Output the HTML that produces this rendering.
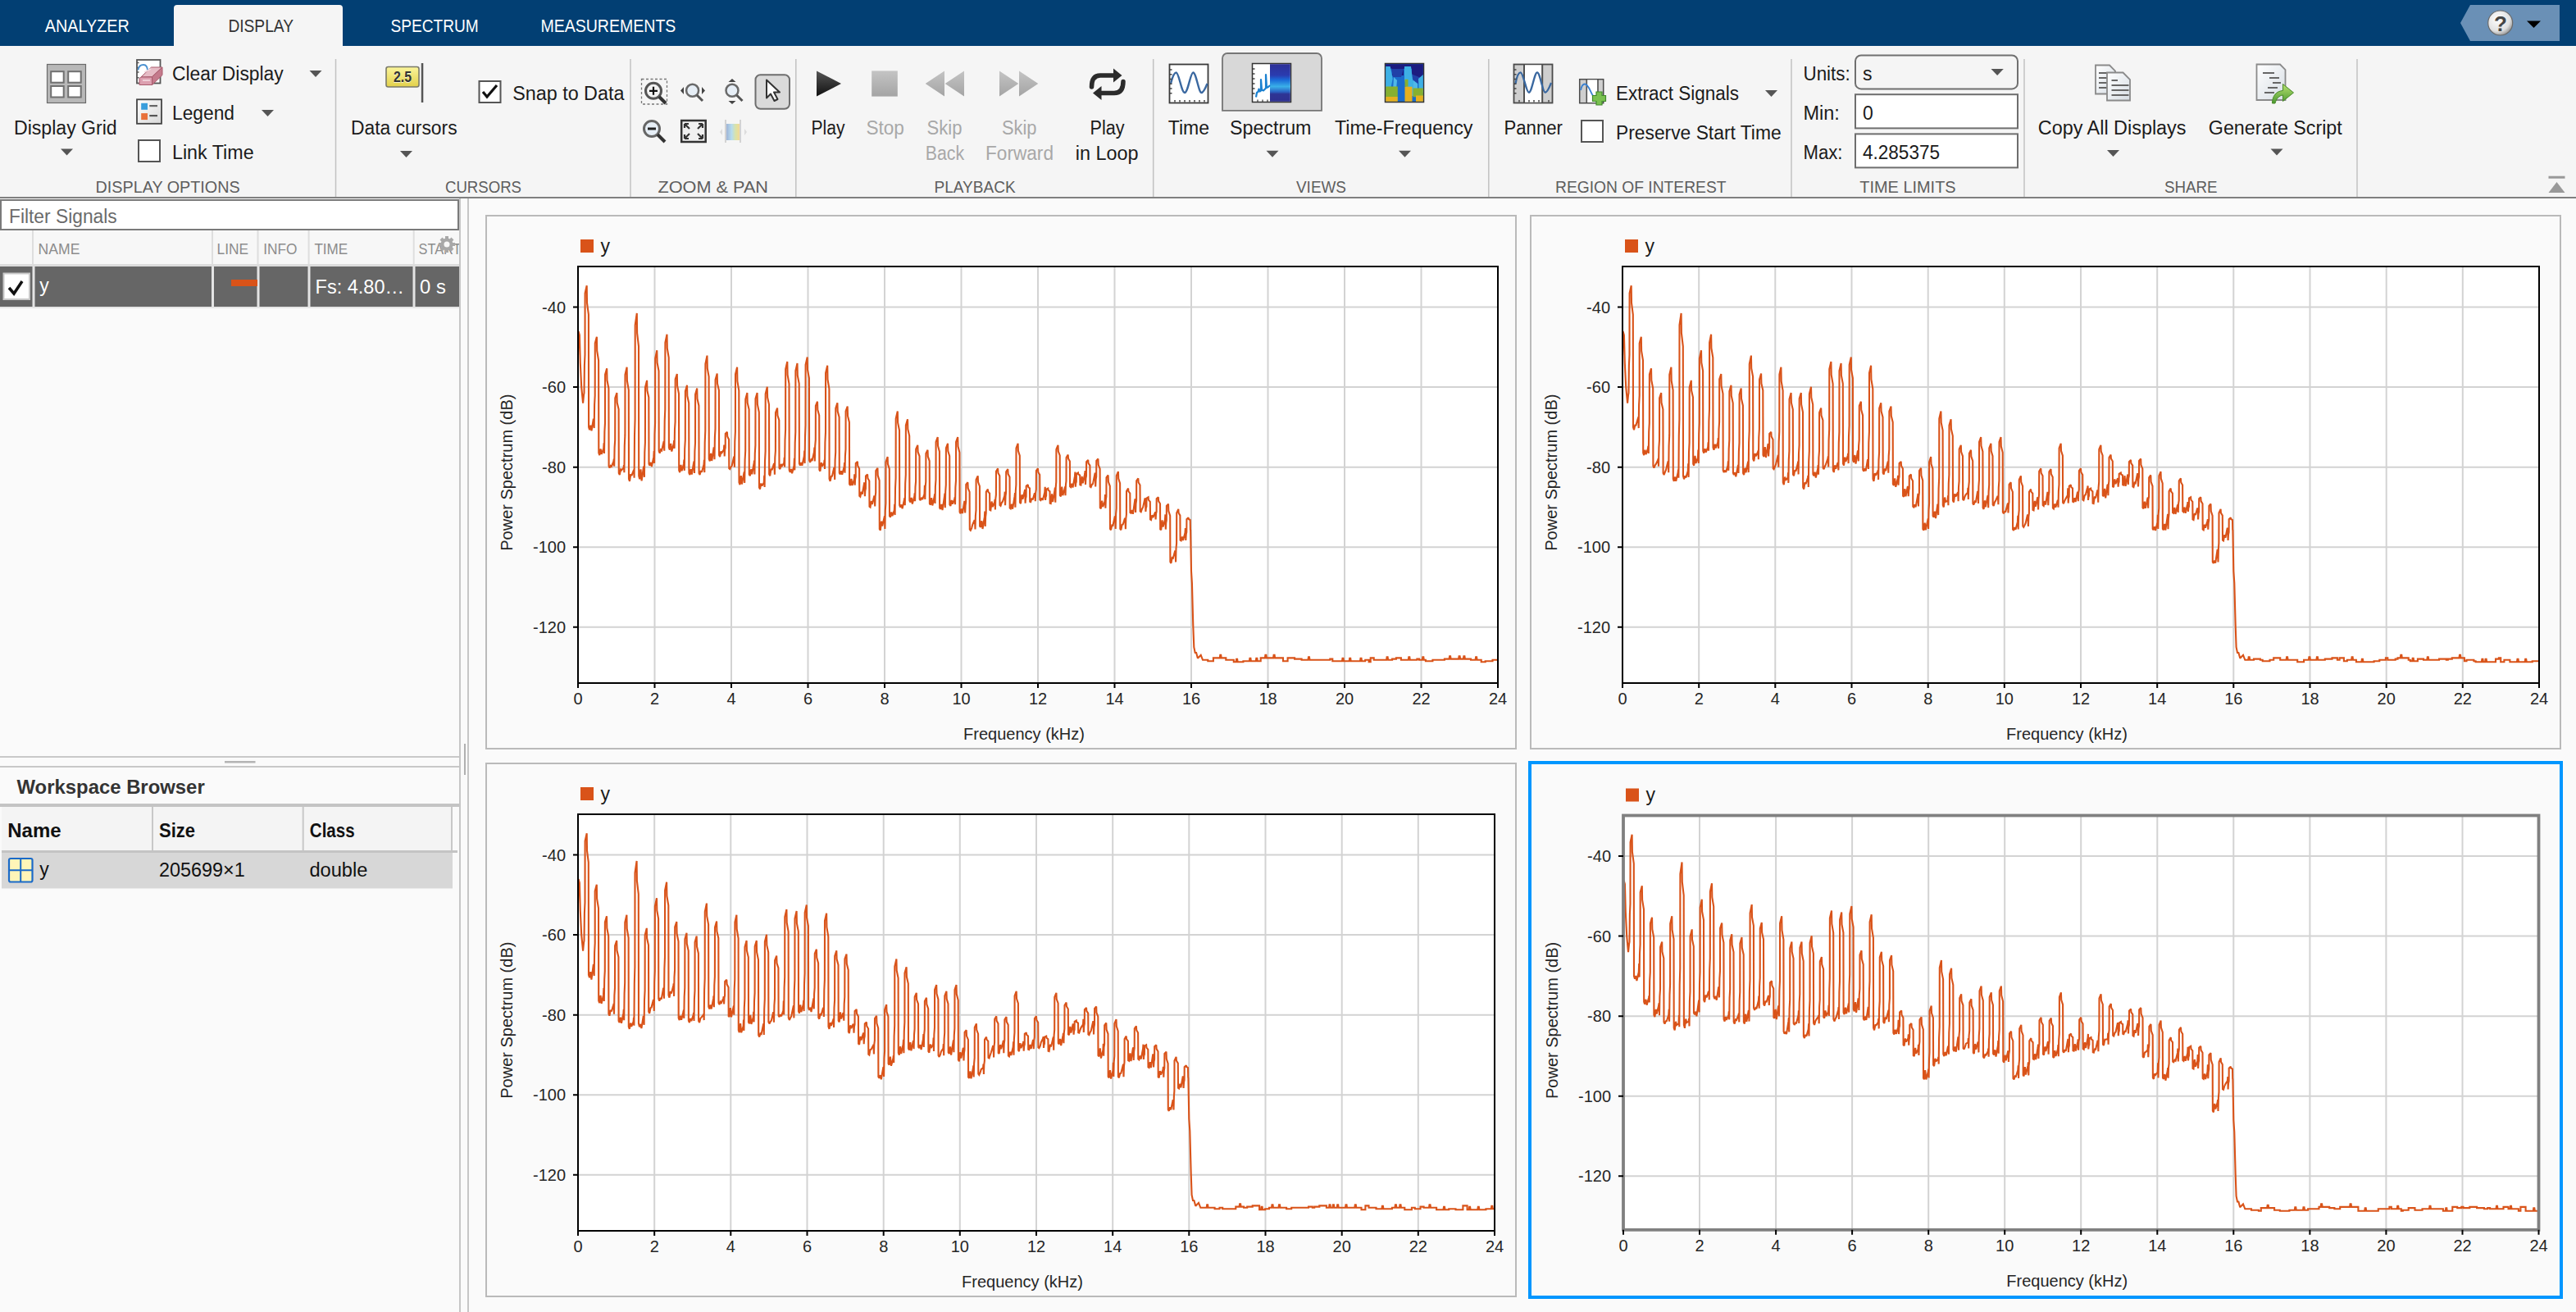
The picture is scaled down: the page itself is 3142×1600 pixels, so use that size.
<!DOCTYPE html>
<html><head><meta charset="utf-8"><title>Signal Analyzer</title>
<style>html,body{margin:0;padding:0;width:3142px;height:1600px;overflow:hidden;background:#fafafa;font-family:"Liberation Sans",sans-serif;}</style>
</head><body>
<svg width="3142" height="1600" viewBox="0 0 3142 1600" font-family="Liberation Sans, sans-serif" style="position:absolute;left:0;top:0">
<rect x="0" y="0" width="3142" height="1600" fill="#fafafa"/>
<rect x="0" y="0" width="3142" height="56" fill="#023f73"/>
<path d="M212 56V10a4 4 0 0 1 4-4h198a4 4 0 0 1 4 4V56z" fill="#f5f5f5"/>
<text x="54.7" y="39.3" font-size="22" fill="#fff" textLength="103" lengthAdjust="spacingAndGlyphs">ANALYZER</text>
<text x="278.4" y="39.3" font-size="22" fill="#333" textLength="79.6" lengthAdjust="spacingAndGlyphs">DISPLAY</text>
<text x="476.6" y="39.3" font-size="22" fill="#fff" textLength="107" lengthAdjust="spacingAndGlyphs">SPECTRUM</text>
<text x="659.4" y="39.3" font-size="22" fill="#fff" textLength="165" lengthAdjust="spacingAndGlyphs">MEASUREMENTS</text>
<path d="M3001 28L3013 6H3122V50H3013z" fill="#6a90b6"/>
<defs><radialGradient id="hg" cx="0.4" cy="0.35" r="0.7"><stop offset="0" stop-color="#fff"/><stop offset="0.7" stop-color="#e0e0e0"/><stop offset="1" stop-color="#8a8a8a"/></radialGradient></defs>
<circle cx="3049.7" cy="28" r="15" fill="url(#hg)" stroke="#6a6a6a" stroke-width="1.2"/>
<text x="3050" y="37.6" font-size="26" fill="#454545" font-weight="bold" text-anchor="middle">?</text>
<path d="M3082 25.5h17l-8.5 8.5z" fill="#000"/>
<rect x="0" y="56" width="3142" height="184" fill="#f5f5f5"/>
<rect x="0" y="240" width="3142" height="2" fill="#808080"/>
<rect x="408.75" y="72" width="1.5" height="168" fill="#c2c2c2"/>
<rect x="768.25" y="72" width="1.5" height="168" fill="#c2c2c2"/>
<rect x="970.05" y="72" width="1.5" height="168" fill="#c2c2c2"/>
<rect x="1405.95" y="72" width="1.5" height="168" fill="#c2c2c2"/>
<rect x="1815.05" y="72" width="1.5" height="168" fill="#c2c2c2"/>
<rect x="2184.25" y="72" width="1.5" height="168" fill="#c2c2c2"/>
<rect x="2468.25" y="72" width="1.5" height="168" fill="#c2c2c2"/>
<rect x="2874.25" y="72" width="1.5" height="168" fill="#c2c2c2"/>
<text x="116.6" y="234.5" font-size="21" fill="#5e5e5e" textLength="176" lengthAdjust="spacingAndGlyphs">DISPLAY OPTIONS</text>
<text x="543" y="234.5" font-size="21" fill="#5e5e5e" textLength="93" lengthAdjust="spacingAndGlyphs">CURSORS</text>
<text x="802.5" y="234.5" font-size="21" fill="#5e5e5e" textLength="134.5" lengthAdjust="spacingAndGlyphs">ZOOM &amp; PAN</text>
<text x="1139.5" y="234.5" font-size="21" fill="#5e5e5e" textLength="99.1" lengthAdjust="spacingAndGlyphs">PLAYBACK</text>
<text x="1581" y="234.5" font-size="21" fill="#5e5e5e" textLength="61" lengthAdjust="spacingAndGlyphs">VIEWS</text>
<text x="1897" y="234.5" font-size="21" fill="#5e5e5e" textLength="208.5" lengthAdjust="spacingAndGlyphs">REGION OF INTEREST</text>
<text x="2268.3" y="234.5" font-size="21" fill="#5e5e5e" textLength="117.3" lengthAdjust="spacingAndGlyphs">TIME LIMITS</text>
<text x="2640" y="234.5" font-size="21" fill="#5e5e5e" textLength="64.6" lengthAdjust="spacingAndGlyphs">SHARE</text>
<rect x="57.5" y="78.5" width="47" height="47" fill="#b8b8b8" stroke="#6a6a6a" stroke-width="1.2"/>
<rect x="62.2" y="87.2" width="15.5" height="13.5" fill="#fff" stroke="#707070" stroke-width="2"/>
<rect x="83.2" y="87.2" width="15.5" height="13.5" fill="#fff" stroke="#707070" stroke-width="2"/>
<rect x="62.2" y="105" width="15.5" height="13.5" fill="#fff" stroke="#707070" stroke-width="2"/>
<rect x="83.2" y="105" width="15.5" height="13.5" fill="#fff" stroke="#707070" stroke-width="2"/>
<text x="17" y="163.6" font-size="23" fill="#1b1b1b" textLength="125.7" lengthAdjust="spacingAndGlyphs">Display Grid</text>
<path d="M74 181.5h15l-7.5 8z" fill="#555"/>
<rect x="167" y="73" width="28.5" height="28.5" fill="#fff" stroke="#555" stroke-width="1.8"/><path d="M167 76.5h2.5M167 82.5h2.5M167 88h2.5M167 94.7h2.5" stroke="#555" stroke-width="1.5"/>
<path d="M168.5 85.5C169 81 172 79 175 79C178 79 180 82 180 87" stroke="#4a90d0" stroke-width="1.8" fill="none"/>
<path d="M172 94L184.5 82H198L185.6 93.6z" fill="#e6bcc6" stroke="#a85a6c" stroke-width="1"/><path d="M170 103.5V95.5L172 94H185.6V103.5z" fill="#dca0b0" stroke="#a85a6c" stroke-width="1"/><path d="M185.6 93.6L198 82V91.5L185.6 103.5z" fill="#c47a8c" stroke="#a85a6c" stroke-width="1"/><path d="M174 98h9M176 88l8-4" stroke="#f4dde2" stroke-width="1.5"/>
<text x="210" y="98" font-size="23" fill="#1b1b1b" textLength="135.7" lengthAdjust="spacingAndGlyphs">Clear Display</text>
<path d="M377.5 86h15l-7.5 8z" fill="#555"/>
<defs><linearGradient id="lg" x1="0" y1="0" x2="1" y2="1"><stop offset="0" stop-color="#fff"/><stop offset="1" stop-color="#d8d8d8"/></linearGradient></defs>
<rect x="167" y="121.3" width="30" height="29.5" fill="url(#lg)" stroke="#444" stroke-width="1.8"/>
<rect x="172.2" y="125.8" width="7.8" height="8" fill="#3a9edc"/>
<rect x="182.3" y="128" width="9.7" height="2.2" fill="#666"/>
<rect x="172.2" y="138.1" width="7.8" height="8" fill="#e8703a"/>
<rect x="182.3" y="140" width="9.7" height="2.2" fill="#555"/>
<text x="210" y="145.7" font-size="23" fill="#1b1b1b" textLength="76" lengthAdjust="spacingAndGlyphs">Legend</text>
<path d="M319 134h15l-7.5 8z" fill="#555"/>
<rect x="169" y="171" width="26" height="26" fill="#fff" stroke="#555" stroke-width="2"/>
<text x="210" y="193.8" font-size="23" fill="#1b1b1b" textLength="99.6" lengthAdjust="spacingAndGlyphs">Link Time</text>
<defs><linearGradient id="yg" x1="0" y1="0" x2="0" y2="1"><stop offset="0" stop-color="#f7ee8a"/><stop offset="1" stop-color="#d9c22a"/></linearGradient></defs>
<defs><linearGradient id="yg2" x1="0" y1="0" x2="0" y2="1"><stop offset="0" stop-color="#fbf59c"/><stop offset="1" stop-color="#e2d04a"/></linearGradient></defs>
<rect x="471" y="81.5" width="40" height="24.5" rx="2.5" fill="url(#yg2)" stroke="#7a7a6a" stroke-width="1.6"/>
<text x="491" y="101" font-size="19" font-weight="bold" fill="#fff" text-anchor="middle" textLength="22" lengthAdjust="spacingAndGlyphs" opacity="0.7">2.5</text><text x="491" y="100.3" font-size="19" font-weight="bold" fill="#333" text-anchor="middle" textLength="22" lengthAdjust="spacingAndGlyphs">2.5</text>
<rect x="513.8" y="77" width="2.5" height="48" fill="#555"/>
<text x="428" y="163.6" font-size="23" fill="#1b1b1b" textLength="129.6" lengthAdjust="spacingAndGlyphs">Data cursors</text>
<path d="M488 184h15l-7.5 8z" fill="#555"/>
<rect x="584.5" y="99" width="26" height="26" fill="#fff" stroke="#555" stroke-width="2"/>
<path d="M589 112l5 6l12-14" stroke="#111" stroke-width="3.2" fill="none"/>
<text x="625.2" y="121.7" font-size="23" fill="#1b1b1b" textLength="136.2" lengthAdjust="spacingAndGlyphs">Snap to Data</text>
<rect x="782.5" y="96.5" width="31" height="30.5" fill="none" stroke="#777" stroke-width="1.3" stroke-dasharray="3 2.5"/>
<circle cx="797" cy="110.8" r="9.5" fill="#f2f2f2" stroke="#555" stroke-width="3"/><path d="M792 110.8h10M797 105.8v10" stroke="#111" stroke-width="2.2"/><path d="M804 118l8 8" stroke="#333" stroke-width="4"/>
<circle cx="844.6" cy="110.3" r="7.5" fill="#e6eef6" stroke="#6a6a6a" stroke-width="2.5"/><path d="M850 116l7 7" stroke="#555" stroke-width="3"/><path d="M834 106v9l-4-4.5z M856 106v9l4-4.5z" fill="#444"/>
<circle cx="893" cy="110.3" r="7.5" fill="#e6eef6" stroke="#6a6a6a" stroke-width="2.5"/><path d="M898.5 116l7 7" stroke="#555" stroke-width="3"/><path d="M888.5 100h9l-4.5-4z M888.5 123h9l-4.5 4z" fill="#444"/>
<rect x="921.5" y="91.3" width="41.5" height="41.5" rx="6" fill="#dadada" stroke="#6e6e6e" stroke-width="2"/>
<path d="M935 97.5v22l5-5l4.5 8.5l4-2l-4.5-8.5h7z" fill="#fff" stroke="#333" stroke-width="2" stroke-linejoin="round"/>
<circle cx="795" cy="157" r="9.5" fill="#e6eef6" stroke="#666" stroke-width="3"/><path d="M790 157h10" stroke="#222" stroke-width="3"/><path d="M802 164l9 9" stroke="#333" stroke-width="4"/>
<rect x="831.2" y="147" width="29.5" height="26" fill="#f0f0f0" stroke="#333" stroke-width="2.5"/><path d="M835 151l6 6M835 151h5M835 151v5 M857 151l-6 6M857 151h-5M857 151v5 M835 169l6-6M835 169h5M835 169v-5 M857 169l-6-6M857 169h-5M857 169v-5" stroke="#333" stroke-width="2.2" fill="none"/>
<defs><linearGradient id="cb" x1="0" x2="1"><stop offset="0" stop-color="#9fb4d6"/><stop offset="0.4" stop-color="#b6dcef"/><stop offset="0.7" stop-color="#d9e3a9"/><stop offset="1" stop-color="#f2d996"/></linearGradient></defs>
<rect x="886" y="151" width="16" height="20" fill="url(#cb)"/><path d="M885 146v28M903 146v28" stroke="#c8c8c8" stroke-width="1.5"/><path d="M881 157v8l-3-4z M908 157v8l3-4z" fill="#ddd"/>
<defs><linearGradient id="pg" x1="0" y1="0" x2="0" y2="1"><stop offset="0" stop-color="#555"/><stop offset="1" stop-color="#111"/></linearGradient><linearGradient id="gg" x1="0" y1="0" x2="0" y2="1"><stop offset="0" stop-color="#c4c4c4"/><stop offset="1" stop-color="#a4a4a4"/></linearGradient></defs>
<path d="M996 86.5L1026 102L996 117.5z" fill="url(#pg)"/>
<text x="989.5" y="164" font-size="23" fill="#1b1b1b" textLength="41" lengthAdjust="spacingAndGlyphs">Play</text>
<rect x="1063.2" y="86.4" width="31.6" height="31.2" fill="url(#gg)"/>
<text x="1056.4" y="164" font-size="23" fill="#a8a8a8" textLength="46.5" lengthAdjust="spacingAndGlyphs">Stop</text>
<path d="M1152 86.5v31L1128.7 102z M1176 86.5v31L1152.7 102z" fill="url(#gg)"/>
<text x="1130.5" y="164" font-size="23" fill="#a8a8a8" textLength="42.9" lengthAdjust="spacingAndGlyphs">Skip</text>
<text x="1128.75" y="195.3" font-size="23" fill="#a8a8a8" textLength="47.3" lengthAdjust="spacingAndGlyphs">Back</text>
<path d="M1219 86.5v31L1242.3 102z M1243 86.5v31L1266.3 102z" fill="url(#gg)"/>
<text x="1222" y="164" font-size="23" fill="#a8a8a8" textLength="42.5" lengthAdjust="spacingAndGlyphs">Skip</text>
<text x="1202" y="195.3" font-size="23" fill="#a8a8a8" textLength="83" lengthAdjust="spacingAndGlyphs">Forward</text>
<path d="M1331.5 106C1331.5 97 1334.5 92 1342 92H1359" stroke="#2b2b2b" stroke-width="5.5" fill="none" stroke-linecap="round"/><path d="M1358 83.5L1368.5 92L1358 100.5z" fill="#2b2b2b"/><path d="M1370 99.5C1370 109 1366.5 113.5 1359 113.5H1342" stroke="#2b2b2b" stroke-width="5.5" fill="none" stroke-linecap="round"/><path d="M1343.5 105L1333 113.5L1343.5 122z" fill="#2b2b2b"/>
<text x="1329.6" y="164" font-size="23" fill="#1b1b1b" textLength="42" lengthAdjust="spacingAndGlyphs">Play</text>
<text x="1311.8" y="195.3" font-size="23" fill="#1b1b1b" textLength="76.8" lengthAdjust="spacingAndGlyphs">in Loop</text>
<rect x="1426.5" y="78.5" width="47" height="47" fill="#fff" stroke="#3a3a3a" stroke-width="1.8"/><path d="M1428 102C1430 94 1432 88.5 1434.6 88.5C1438 88.5 1441 113 1445 113C1449 113 1452 88.5 1455.3 88.5C1459 88.5 1462 113 1465.5 113C1468 113 1470.5 107 1472.5 102" stroke="#3a68a0" stroke-width="2.4" fill="none"/>
<path d="M1427 85h2.5M1427 90.7h2.5M1427 96.5h2.5M1427 102.3h2.5M1427 108h2.5M1427 113.8h2.5M1433 124.5v-2.5M1439 124.5v-2.5M1445 124.5v-2.5M1451 124.5v-2.5M1457 124.5v-2.5M1463 124.5v-2.5M1469 124.5v-2.5" stroke="#444" stroke-width="1.5"/>
<text x="1424.7" y="163.7" font-size="23" fill="#1b1b1b" textLength="50.3" lengthAdjust="spacingAndGlyphs">Time</text>
<path d="M1491 134.8V71a6 6 0 0 1 6-6H1606a6 6 0 0 1 6 6V134.8z" fill="#d8d8d8" stroke="#767676" stroke-width="1.8"/>
<defs><linearGradient id="sp" x1="0" y1="0" x2="0" y2="1"><stop offset="0" stop-color="#2e3096"/><stop offset="0.3" stop-color="#2a3cb0"/><stop offset="0.42" stop-color="#1a6ad8"/><stop offset="0.6" stop-color="#3ab0e8"/><stop offset="0.74" stop-color="#2a64c4"/><stop offset="0.8" stop-color="#2e3494"/><stop offset="1" stop-color="#2e3090"/></linearGradient></defs>
<rect x="1527.5" y="77.5" width="47" height="47" fill="#fff" stroke="#333" stroke-width="1.5"/><rect x="1549" y="78.2" width="24.8" height="45.6" fill="url(#sp)"/><path d="M1528 84h2.5M1528 90h2.5M1528 96h2.5M1528 102h2.5M1528 108h2.5M1528 114h2.5M1534 124v-2.5M1540 124v-2.5M1546 124v-2.5" stroke="#444" stroke-width="1.3"/><path d="M1532 118.5l1-5.5l1.5-1l1-3.5l1 3l1.5-1v-13.5l1 12.5l2 1l1.5-1.5l1.5-1.5v-16.5l1 16l2-1l2-2" stroke="#1a80d0" stroke-width="2.2" fill="none" stroke-linejoin="round"/>
<text x="1500" y="163.7" font-size="23" fill="#1b1b1b" textLength="99.5" lengthAdjust="spacingAndGlyphs">Spectrum</text>
<path d="M1544.5 183.7h15l-7.5 8z" fill="#555"/>
<rect x="1689.5" y="77.5" width="47" height="47" fill="#1a6ccc" stroke="#333" stroke-width="1.5"/>
<path d="M1690.2 78.2h45.6v5.5h-45.6z M1698 83h14v9h-14z M1722 83h13.8v14l-13.8-5z" fill="#1c1c80"/><path d="M1697 84h15l-3 10h-10z M1721 90l14.8 6v10l-12-8z" fill="#2040a8"/>
<path d="M1690.2 81h5.5l3 15l-2 10h-6.5z M1713 81h8l2 16l4 8l-3 12h-6l-5-20z M1730 96l5.8-5v22h-5z" fill="#3eb0e4"/><path d="M1700 94l4 4l-1 12h-4z M1724 98l5 4v10h-5z" fill="#50b8e8"/>
<path d="M1690.2 105.5h14.6v12.7h-14.6z M1713.5 96.8h4v9h-4z M1723.5 107.5h12.3v10.7h-12.3z" fill="#86b030"/><path d="M1690.2 118h14.6v5.8h-14.6z M1713.5 105.7h9v18.1h-9z M1727 116.4h8.8v7.4h-8.8z" fill="#e6b01e"/>
<text x="1627.9" y="163.7" font-size="23" fill="#1b1b1b" textLength="168.6" lengthAdjust="spacingAndGlyphs">Time-Frequency</text>
<path d="M1706 183.7h15l-7.5 8z" fill="#555"/>
<rect x="1846.5" y="78.5" width="47" height="47" fill="#cfcfcf" stroke="#4a4a4a" stroke-width="1.8"/><rect x="1860" y="79.4" width="20.5" height="45.2" fill="#fff"/><path d="M1859 79v46M1881.2 79v46" stroke="#505050" stroke-width="2"/><path d="M1848.5 102C1850 94 1852 88.4 1854.6 88.4C1858 88.4 1861.5 112.7 1864.8 112.7C1868.5 112.7 1871.5 88.4 1875 88.4C1878.5 88.4 1881.5 112.7 1884.7 112.7C1887.5 112.7 1890 106 1892 101" stroke="#3a68a0" stroke-width="2.4" fill="none"/><path d="M1847 85h2.5M1847 90.7h2.5M1847 96.5h2.5M1847 102.3h2.5M1847 108h2.5M1847 113.8h2.5M1853 124.5v-2.5M1865 124.5v-2.5M1871 124.5v-2.5M1877 124.5v-2.5M1889 124.5v-2.5" stroke="#444" stroke-width="1.5"/>
<text x="1834.5" y="163.8" font-size="23" fill="#1b1b1b" textLength="71.5" lengthAdjust="spacingAndGlyphs">Panner</text>
<rect x="1926.7" y="96.7" width="29" height="29" fill="#cfcfcf" stroke="#4a4a4a" stroke-width="1.5"/><rect x="1936" y="97.5" width="12.5" height="27.5" fill="#fff"/><path d="M1935.3 97v28M1949 97v28" stroke="#505050" stroke-width="1.6"/><path d="M1928 110C1929 105 1930.5 102.5 1933 102.5C1938 102.5 1940 114 1944 118" stroke="#3a80d0" stroke-width="1.8" fill="none"/><path d="M1947 112h7v4.5h4.5v7h-4.5v4.5h-7v-4.5h-4.5v-7h4.5z" fill="#7ac050" stroke="#3f8a2a" stroke-width="1.2"/>
<text x="1971" y="121.9" font-size="23" fill="#1b1b1b" textLength="150" lengthAdjust="spacingAndGlyphs">Extract Signals</text>
<path d="M2153 110h15l-7.5 8z" fill="#555"/>
<rect x="1929" y="147" width="26" height="26" fill="#fff" stroke="#555" stroke-width="2"/>
<text x="1971" y="169.6" font-size="23" fill="#1b1b1b" textLength="201.6" lengthAdjust="spacingAndGlyphs">Preserve Start Time</text>
<text x="2199.5" y="98" font-size="23" fill="#1b1b1b" textLength="57.2" lengthAdjust="spacingAndGlyphs">Units:</text>
<text x="2199.5" y="145.8" font-size="23" fill="#1b1b1b" textLength="44.3" lengthAdjust="spacingAndGlyphs">Min:</text>
<text x="2199.5" y="193.6" font-size="23" fill="#1b1b1b" textLength="48" lengthAdjust="spacingAndGlyphs">Max:</text>
<rect x="2263" y="67.4" width="198" height="41" rx="7" fill="#f5f5f5" stroke="#707070" stroke-width="2"/>
<text x="2272" y="98" font-size="23" fill="#1b1b1b">s</text>
<path d="M2428.5 84h15.3l-7.65 8z" fill="#555"/>
<rect x="2263" y="115.2" width="198" height="41.2" fill="#fff" stroke="#6e6e6e" stroke-width="2"/>
<text x="2272" y="145.8" font-size="23" fill="#1b1b1b">0</text>
<rect x="2263" y="163.4" width="198" height="41" fill="#fff" stroke="#6e6e6e" stroke-width="2"/>
<text x="2272" y="193.6" font-size="23" fill="#1b1b1b" textLength="94" lengthAdjust="spacingAndGlyphs">4.285375</text>
<defs><linearGradient id="pgc" x1="0" y1="0" x2="1" y2="1"><stop offset="0" stop-color="#ffffff"/><stop offset="1" stop-color="#d6dde4"/></linearGradient></defs>
<path d="M2556 79.5h17l7 7v28h-24z" fill="url(#pgc)" stroke="#8a8a8a" stroke-width="1.8"/><path d="M2560 89h12M2560 95h12M2560 101h12M2560 107h12" stroke="#666" stroke-width="2"/>
<path d="M2570 88.5h19.5l8.5 8.5v25.5h-28z" fill="url(#pgc)" stroke="#8a8a8a" stroke-width="1.8"/><path d="M2575.5 98h7.5M2575.5 104h21M2575.5 110h21M2575.5 116h21" stroke="#666" stroke-width="2"/>
<text x="2485.8" y="163.6" font-size="23" fill="#1b1b1b" textLength="180.7" lengthAdjust="spacingAndGlyphs">Copy All Displays</text>
<path d="M2570 183h15l-7.5 8z" fill="#555"/>
<path d="M2752.5 78.5h28.5l6.5 6.5v37h-35z" fill="url(#pgc)" stroke="#8a8a8a" stroke-width="1.8"/><path d="M2760 89h14M2768 95h12M2772 101h10M2766 107h12M2762 113h12" stroke="#666" stroke-width="2"/>
<defs><linearGradient id="ga" x1="0" y1="0" x2="0" y2="1"><stop offset="0" stop-color="#b8e070"/><stop offset="1" stop-color="#4a9a30"/></linearGradient></defs>
<path d="M2771.5 126c0-9 5-15 13-15.5v-8l13 10.5l-13 10.5v-7.5c-4.5 0.5-8 4-9.5 10z" fill="url(#ga)" stroke="#4a8a2a" stroke-width="1"/>
<text x="2693.8" y="163.6" font-size="23" fill="#1b1b1b" textLength="163" lengthAdjust="spacingAndGlyphs">Generate Script</text>
<path d="M2769.5 181.5h15l-7.5 8z" fill="#555"/>
<rect x="3108.5" y="214.7" width="20" height="3" fill="#999"/>
<path d="M3108.5 235h20l-10-13z" fill="#999"/>
<rect x="0" y="242" width="560" height="1358" fill="#fafafa"/>
<rect x="560" y="242" width="2" height="1358" fill="#c6c6c6"/>
<rect x="570" y="242" width="2" height="1358" fill="#c6c6c6"/>
<rect x="566" y="907" width="2" height="38" fill="#b0b0b0"/>
<rect x="1" y="244" width="558" height="36" fill="#fff" stroke="#7a7a7a" stroke-width="2"/>
<text x="11" y="272" font-size="23" fill="#6b6b6b" textLength="131.7" lengthAdjust="spacingAndGlyphs">Filter Signals</text>
<rect x="0" y="281" width="560" height="42" fill="#f7f7f7"/>
<rect x="39" y="281" width="2" height="42" fill="#dedede"/>
<rect x="258" y="281" width="2" height="42" fill="#dedede"/>
<rect x="313.5" y="281" width="2" height="42" fill="#dedede"/>
<rect x="375.6" y="281" width="2" height="42" fill="#dedede"/>
<rect x="503.7" y="281" width="2" height="42" fill="#dedede"/>
<text x="46.6" y="310.4" font-size="17.5" fill="#8c8c8c" textLength="50.8" lengthAdjust="spacingAndGlyphs">NAME</text>
<text x="264.6" y="310.4" font-size="17.5" fill="#8c8c8c" textLength="38.5" lengthAdjust="spacingAndGlyphs">LINE</text>
<text x="321.2" y="310.4" font-size="17.5" fill="#8c8c8c" textLength="41.3" lengthAdjust="spacingAndGlyphs">INFO</text>
<text x="383.4" y="310.4" font-size="17.5" fill="#8c8c8c" textLength="40.8" lengthAdjust="spacingAndGlyphs">TIME</text>
<svg x="505" y="281" width="55" height="42"><text x="5.5" y="29.4" font-size="17.5" fill="#8c8c8c" textLength="52" lengthAdjust="spacingAndGlyphs">START</text></svg>
<g transform="translate(545,298)" fill="#a8a8a8"><circle r="7.5"/><path d="M-2-10h4v4h-4zM-2 6h4v4h-4zM-10-2h4v4h-4zM6-2h4v4h-4z"/><path d="M-8.5-5.5l3-3l3 3l-3 3zM5.5 2.5l3 3l-3 3l-3-3zM-8.5 5.5l3 3l3-3l-3-3zM5.5-2.5l3-3l-3-3l-3 3z"/><circle r="3.5" fill="#f7f7f7"/></g>
<rect x="0" y="322" width="560" height="3" fill="#dcdcdc"/>
<rect x="0" y="325" width="560" height="49" fill="#666"/>
<rect x="39.5" y="325" width="3" height="49" fill="#e4e4e4"/>
<rect x="258.0" y="325" width="3" height="49" fill="#e4e4e4"/>
<rect x="313.5" y="325" width="3" height="49" fill="#e4e4e4"/>
<rect x="375.5" y="325" width="3" height="49" fill="#e4e4e4"/>
<rect x="503.5" y="325" width="3" height="49" fill="#e4e4e4"/>
<rect x="4.5" y="333.5" width="31.5" height="31.5" fill="#fff" stroke="#c8c8c8" stroke-width="2"/>
<path d="M11 351l6 7l10-15" stroke="#111" stroke-width="3.5" fill="none"/>
<text x="48.2" y="356" font-size="23" fill="#fff">y</text>
<rect x="282" y="341" width="32" height="8" fill="#d95319"/>
<text x="384.6" y="357.7" font-size="23" fill="#fff" textLength="108.4" lengthAdjust="spacingAndGlyphs">Fs: 4.80…</text>
<text x="512" y="357.7" font-size="23" fill="#fff" textLength="31.8" lengthAdjust="spacingAndGlyphs">0 s</text>
<rect x="0" y="374" width="560" height="2" fill="#e6e6e6"/>
<rect x="0" y="922" width="560" height="2" fill="#c8c8c8"/>
<rect x="274" y="928" width="37.5" height="2.5" fill="#b4b4b4"/>
<rect x="0" y="934" width="560" height="2" fill="#c8c8c8"/>
<text x="20.5" y="967.5" font-size="24" fill="#333" font-weight="bold" textLength="229.2" lengthAdjust="spacingAndGlyphs">Workspace Browser</text>
<rect x="0" y="980" width="560" height="4" fill="#c4c4c4"/>
<rect x="2" y="984" width="550" height="55" fill="#f4f4f4"/>
<rect x="185" y="984" width="2" height="55" fill="#c8c8c8"/>
<rect x="368.7" y="984" width="2" height="55" fill="#c8c8c8"/>
<rect x="550" y="984" width="2" height="55" fill="#c8c8c8"/>
<text x="9.3" y="1021" font-size="24" fill="#111" font-weight="bold" textLength="65.3" lengthAdjust="spacingAndGlyphs">Name</text>
<text x="194" y="1021" font-size="24" fill="#111" font-weight="bold" textLength="44" lengthAdjust="spacingAndGlyphs">Size</text>
<text x="377.8" y="1021" font-size="24" fill="#111" font-weight="bold" textLength="54.8" lengthAdjust="spacingAndGlyphs">Class</text>
<rect x="2" y="1037" width="556" height="3" fill="#c4c4c4"/>
<rect x="2" y="1040" width="550" height="43.5" fill="#d7d7d7"/>
<rect x="11" y="1047" width="28.5" height="28.5" rx="2" fill="#fff5b8" stroke="#1a6ac8" stroke-width="2.2"/><path d="M25.2 1047v28.5M11 1061.2h28.5" stroke="#1a6ac8" stroke-width="2"/>
<text x="48.2" y="1067.7" font-size="23" fill="#111">y</text>
<text x="194" y="1068.9" font-size="23" fill="#111" textLength="104.8" lengthAdjust="spacingAndGlyphs">205699×1</text>
<text x="377.4" y="1068.9" font-size="23" fill="#111" textLength="71" lengthAdjust="spacingAndGlyphs">double</text>
<rect x="593" y="263" width="1256" height="650" fill="#fafafa" stroke="#bababa" stroke-width="2"/>
<rect x="1867" y="263" width="1256" height="650" fill="#fafafa" stroke="#bababa" stroke-width="2"/>
<rect x="593" y="931" width="1256" height="650" fill="#fafafa" stroke="#bababa" stroke-width="2"/>
<rect x="1866" y="930" width="1258" height="652" fill="#fafafa" stroke="#0096ff" stroke-width="4"/>
<rect x="705" y="325" width="1122" height="508" fill="#fff"/>
<path d="M798.5 325V833M892.0 325V833M985.5 325V833M1079.0 325V833M1172.5 325V833M1266.0 325V833M1359.5 325V833M1453.0 325V833M1546.5 325V833M1640.0 325V833M1733.5 325V833M705 374.6H1827M705 472.1H1827M705 569.7H1827M705 667.2H1827M705 764.8H1827" stroke="#d3d3d3" stroke-width="2" fill="none"/>
<polyline points="705.0,433.1 705.6,403.9 706.9,408.7 707.8,442.9 709.2,472.1 711.1,491.7 712.0,481.9 712.5,479.2 712.9,445.8 713.5,432.5 713.6,357.6 715.7,348.3 716.0,369.4 717.9,383.5 718.1,520.8 719.1,524.3 720.4,518.7 721.5,525.3 723.9,510.7 724.3,513.9 724.7,522.1 725.1,493.7 725.7,482.3 725.8,418.6 727.9,410.7 728.2,428.0 730.1,439.6 730.3,552.2 731.3,555.1 732.6,547.4 733.7,553.9 736.2,547.2 736.6,540.4 737.0,553.0 737.4,526.5 738.0,515.9 738.1,456.6 740.2,449.2 740.5,463.8 742.4,473.5 742.6,568.2 743.6,570.7 744.8,567.9 745.9,568.9 748.4,562.7 748.8,560.0 749.2,568.8 749.6,545.9 750.2,536.7 750.3,485.4 752.4,479.0 752.7,491.0 754.6,499.0 754.8,577.0 755.8,579.0 757.1,572.4 758.2,573.3 760.6,570.4 761.0,567.0 761.4,576.3 761.8,543.5 762.4,530.4 762.5,456.9 764.6,447.8 764.9,464.4 766.8,475.6 767.0,584.0 768.0,586.8 769.3,578.2 770.4,580.0 772.8,573.8 773.2,573.1 773.6,582.7 774.0,531.5 774.6,511.0 774.7,396.3 776.8,381.9 777.1,406.2 779.0,422.4 779.2,580.3 780.2,584.3 781.5,572.4 782.6,586.3 785.1,568.6 785.5,571.8 785.9,581.9 786.3,551.8 786.9,539.8 787.0,472.3 789.1,463.9 789.4,476.3 791.3,484.6 791.5,565.7 792.5,567.7 793.8,563.9 794.9,569.0 797.3,557.4 797.7,550.0 798.1,564.9 798.5,529.8 799.1,515.8 799.2,437.1 801.3,427.3 801.6,442.3 803.5,452.3 803.7,550.1 804.7,552.6 806.0,548.4 807.1,549.4 809.5,539.1 809.9,539.2 810.3,549.7 810.7,513.5 811.3,499.0 811.4,417.9 813.5,407.8 813.8,424.7 815.7,436.0 815.9,545.9 816.9,548.7 818.2,540.9 819.3,550.6 821.8,540.8 822.2,537.0 822.6,546.9 823.0,523.7 823.6,514.4 823.7,462.5 825.8,456.1 826.1,470.5 828.0,480.1 828.2,573.6 829.2,576.0 830.5,567.0 831.6,574.3 834.0,565.7 834.4,560.6 834.8,573.9 835.2,547.3 835.8,536.7 835.9,477.2 838.0,469.7 838.3,482.8 840.2,491.6 840.4,576.8 841.4,579.0 842.7,572.1 843.8,578.5 846.2,563.9 846.6,562.4 847.0,576.9 847.4,550.5 848.0,540.0 848.1,481.0 850.2,473.6 850.5,486.3 852.4,494.7 852.6,576.9 853.6,579.0 854.9,574.1 856.0,575.8 858.5,566.5 858.9,560.7 859.3,576.1 859.7,539.7 860.3,525.2 860.4,443.8 862.5,433.6 862.8,449.1 864.6,459.4 864.8,559.8 865.8,562.4 867.1,552.8 868.2,562.0 870.7,545.5 871.1,551.5 871.5,560.2 871.9,533.5 872.5,522.9 872.6,463.0 874.7,455.6 875.0,467.7 876.9,475.9 877.1,555.0 878.1,557.0 879.4,550.5 880.5,552.1 882.9,548.2 883.3,542.5 883.7,556.4 884.1,548.9 884.7,545.8 884.8,528.9 886.9,526.8 887.2,532.2 889.1,535.9 889.3,571.2 890.3,572.1 891.6,569.3 892.7,568.1 895.1,557.4 895.5,556.8 895.9,569.7 896.3,538.6 896.9,526.1 897.0,456.5 899.1,447.8 899.4,465.0 901.3,476.4 901.5,588.3 902.5,591.2 903.8,580.2 904.9,590.5 907.4,577.1 907.8,575.6 908.2,588.9 908.6,560.9 909.2,549.7 909.3,486.8 911.4,479.0 911.7,491.2 913.6,499.3 913.8,578.4 914.8,580.4 916.1,572.3 917.2,578.4 919.6,564.9 920.0,561.5 920.4,578.4 920.8,553.0 921.4,542.9 921.5,486.1 923.6,479.0 923.9,493.1 925.8,502.5 926.0,594.2 927.0,596.5 928.3,589.5 929.4,592.5 931.8,588.6 932.2,579.9 932.6,594.0 933.0,562.8 933.6,550.3 933.7,480.4 935.8,471.7 936.1,484.7 938.0,493.4 938.2,578.3 939.2,580.4 940.5,571.7 941.6,573.2 944.1,565.1 944.5,567.9 944.9,578.8 945.3,558.0 945.9,549.8 946.0,503.3 948.1,497.5 948.4,506.5 950.3,512.4 950.5,570.6 951.5,572.1 952.8,565.9 953.9,568.1 956.3,564.6 956.7,557.9 957.1,569.5 957.5,536.7 958.1,523.6 958.2,450.1 960.3,440.9 960.6,457.1 962.5,468.0 962.7,573.3 963.7,576.0 965.0,572.0 966.1,577.3 968.5,568.1 968.9,558.8 969.3,573.4 969.7,540.1 970.3,526.8 970.4,452.2 972.5,442.9 972.8,457.9 974.7,467.9 974.9,565.3 975.9,567.7 977.2,564.0 978.3,567.8 980.8,556.6 981.2,549.5 981.6,565.1 982.0,532.1 982.5,518.8 982.6,444.8 984.7,435.6 985.0,451.0 986.9,461.2 987.1,561.3 988.1,563.8 989.4,560.6 990.5,561.9 993.0,551.2 993.4,545.5 993.8,562.4 994.2,543.8 994.8,536.4 994.9,494.9 997.0,489.7 997.3,499.9 999.2,506.7 999.4,572.9 1000.4,574.6 1001.7,564.1 1002.8,568.6 1005.2,564.5 1005.6,560.8 1006.0,572.0 1006.4,539.8 1007.0,526.9 1007.1,454.8 1009.2,445.8 1009.5,462.7 1011.4,474.0 1011.6,584.0 1012.6,586.8 1013.9,580.8 1015.0,580.6 1017.4,570.1 1017.8,575.5 1018.2,584.9 1018.6,561.0 1019.2,551.4 1019.3,497.9 1021.4,491.2 1021.7,501.6 1023.6,508.6 1023.8,576.7 1024.8,578.5 1026.1,574.3 1027.2,578.7 1029.7,568.9 1030.1,564.0 1030.5,576.8 1030.9,556.1 1031.5,547.8 1031.6,501.4 1033.7,495.6 1034.0,507.2 1035.9,514.9 1036.1,590.2 1037.1,592.1 1038.4,584.0 1039.5,592.0 1041.9,584.8 1042.3,578.3 1042.7,591.6 1043.1,584.2 1043.7,581.3 1043.8,564.9 1045.9,562.9 1046.2,568.0 1048.1,571.5 1048.3,604.9 1049.3,605.8 1050.6,599.8 1051.7,602.7 1054.1,589.2 1054.5,589.3 1054.9,605.2 1055.3,598.4 1055.9,595.7 1056.0,580.4 1058.1,578.5 1058.4,583.3 1060.3,586.5 1060.5,617.7 1061.5,618.5 1062.8,611.0 1063.9,614.9 1066.4,604.6 1066.8,608.2 1067.2,617.5 1067.6,605.6 1068.2,600.8 1068.3,574.0 1070.4,570.7 1070.7,579.8 1072.6,585.9 1072.8,645.2 1073.8,646.8 1075.1,635.6 1076.2,641.6 1078.6,630.9 1079.0,629.2 1079.4,645.0 1079.8,622.5 1080.4,613.6 1080.5,563.3 1082.6,557.0 1082.9,565.9 1084.8,571.7 1085.0,629.2 1086.0,630.7 1087.3,624.4 1088.4,629.2 1090.8,622.3 1091.2,614.7 1091.6,628.1 1092.0,595.8 1092.6,582.8 1092.7,510.5 1094.8,501.4 1095.1,515.5 1097.0,524.8 1097.2,616.1 1098.2,618.5 1099.5,615.4 1100.6,620.3 1103.0,609.1 1103.4,607.1 1103.8,616.3 1104.2,589.5 1104.8,578.8 1104.9,518.7 1107.0,511.2 1107.3,523.3 1109.2,531.5 1109.4,610.6 1110.4,612.6 1111.7,606.9 1112.8,614.5 1115.3,605.3 1115.7,601.4 1116.1,611.2 1116.5,593.8 1117.1,586.8 1117.2,547.8 1119.3,542.9 1119.6,551.0 1121.5,556.3 1121.7,608.8 1122.7,610.2 1124.0,606.8 1125.1,609.1 1127.5,602.6 1127.9,591.9 1128.3,609.0 1128.7,593.6 1129.3,587.4 1129.4,553.0 1131.5,548.7 1131.8,556.7 1133.7,562.1 1133.9,614.2 1134.9,615.5 1136.2,607.1 1137.3,616.5 1139.7,605.8 1140.1,602.4 1140.5,613.9 1140.9,593.3 1141.5,585.0 1141.6,538.9 1143.7,533.1 1144.0,543.7 1145.9,550.7 1146.1,619.2 1147.1,620.9 1148.4,614.9 1149.5,622.2 1152.0,605.3 1152.4,601.5 1152.8,619.3 1153.2,599.3 1153.8,591.3 1153.9,546.5 1156.0,540.9 1156.3,550.1 1158.2,556.1 1158.4,615.5 1159.4,617.0 1160.7,610.0 1161.8,614.7 1164.2,608.9 1164.6,606.3 1165.0,615.3 1165.4,594.4 1166.0,586.0 1166.1,539.0 1168.2,533.1 1168.5,544.3 1170.4,551.8 1170.6,624.4 1171.6,626.3 1172.9,620.5 1174.0,626.1 1176.4,610.9 1176.8,614.9 1177.2,625.5 1177.6,616.0 1178.2,612.2 1178.3,590.9 1180.4,588.2 1180.7,595.3 1182.6,599.9 1182.8,645.6 1183.8,646.8 1185.1,644.1 1186.2,639.9 1188.7,634.3 1189.1,635.6 1189.5,645.4 1189.9,628.9 1190.5,622.2 1190.6,585.1 1192.7,580.4 1193.0,587.9 1194.9,592.9 1195.1,641.6 1196.1,642.9 1197.4,635.1 1198.5,645.0 1200.9,630.4 1201.3,623.6 1201.7,641.9 1202.1,630.4 1202.7,625.7 1202.8,599.8 1204.9,596.5 1205.2,599.6 1207.1,601.7 1207.3,621.9 1208.3,622.4 1209.6,611.5 1210.7,618.0 1213.1,612.5 1213.5,609.0 1213.9,621.4 1214.3,608.5 1214.9,603.4 1215.0,574.7 1217.1,571.2 1217.4,576.7 1219.3,580.3 1219.5,616.1 1220.5,617.0 1221.8,612.9 1222.9,611.9 1225.3,604.5 1225.7,599.7 1226.1,616.1 1226.5,604.9 1227.1,600.4 1227.2,575.3 1229.3,572.1 1229.6,577.9 1231.5,581.8 1231.7,619.5 1232.7,620.4 1234.0,614.8 1235.1,620.7 1237.6,605.2 1238.0,601.1 1238.4,618.8 1238.8,599.0 1239.4,591.0 1239.5,546.5 1241.6,540.9 1241.9,549.7 1243.8,555.6 1244.0,612.6 1245.0,614.1 1246.3,603.3 1247.4,608.7 1249.8,598.8 1250.2,597.1 1250.6,613.6 1251.0,607.9 1251.6,605.6 1251.7,592.8 1253.8,591.2 1254.1,593.7 1256.0,595.4 1256.2,611.7 1257.2,612.1 1258.5,607.5 1259.6,609.5 1262.0,601.3 1262.4,602.1 1262.8,611.3 1263.2,601.1 1263.8,597.0 1263.9,574.0 1266.0,571.2 1266.3,575.8 1268.2,579.0 1268.4,609.4 1269.4,610.2 1270.7,607.5 1271.8,609.9 1274.3,600.3 1274.7,593.7 1275.1,609.9 1275.5,606.2 1276.1,604.8 1276.2,596.6 1278.3,595.6 1278.6,597.8 1280.5,599.3 1280.7,613.7 1281.7,614.1 1283.0,602.3 1284.1,612.2 1286.5,597.6 1286.9,594.7 1287.3,612.7 1287.7,594.9 1288.3,587.7 1288.4,547.9 1290.5,542.9 1290.8,550.4 1292.7,555.4 1292.9,604.1 1293.9,605.3 1295.2,593.6 1296.3,604.2 1298.7,595.8 1299.1,593.3 1299.5,604.3 1299.9,591.6 1300.5,586.5 1300.6,558.1 1302.7,554.6 1303.0,559.3 1304.9,562.5 1305.1,593.3 1306.1,594.1 1307.4,589.7 1308.5,594.5 1311.0,580.7 1311.4,575.5 1311.8,593.7 1312.2,589.3 1312.8,587.6 1312.9,577.8 1315.0,576.5 1315.3,578.3 1317.2,579.6 1317.4,591.3 1318.4,591.6 1319.7,581.0 1320.7,589.4 1323.2,578.0 1323.6,574.1 1324.0,591.0 1324.4,583.4 1325.0,580.3 1325.1,563.1 1327.2,560.9 1327.5,564.9 1329.4,567.6 1329.6,593.4 1330.6,594.1 1331.9,590.8 1333.0,590.1 1335.4,577.9 1335.8,576.7 1336.2,593.4 1336.6,584.7 1337.2,581.3 1337.3,561.9 1339.4,559.5 1339.7,566.8 1341.6,571.7 1341.8,619.2 1342.8,620.4 1344.1,610.7 1345.2,618.2 1347.6,611.4 1348.0,603.0 1348.4,619.6 1348.8,609.4 1349.4,605.3 1349.5,582.3 1351.6,579.5 1351.9,587.5 1353.8,592.8 1354.0,644.9 1355.0,646.3 1356.3,640.6 1357.4,640.9 1359.9,629.5 1360.3,632.7 1360.7,644.9 1361.1,627.0 1361.7,619.9 1361.8,580.1 1363.9,575.1 1364.2,583.6 1366.1,589.3 1366.3,644.9 1367.3,646.3 1368.6,639.9 1369.7,639.5 1372.1,631.9 1372.5,634.9 1372.9,645.3 1373.3,632.6 1373.9,627.5 1374.0,599.1 1376.1,595.6 1376.4,599.2 1378.3,601.6 1378.5,625.2 1379.5,625.8 1380.8,622.1 1381.9,626.8 1384.3,609.6 1384.7,608.2 1385.1,624.9 1385.5,614.3 1386.1,610.1 1386.2,586.3 1388.3,583.4 1388.6,588.3 1390.5,591.6 1390.7,623.5 1391.7,624.3 1393.0,620.5 1394.1,618.7 1396.6,607.4 1397.0,608.2 1397.4,624.0 1397.8,619.5 1398.4,617.7 1398.5,607.5 1400.6,606.3 1400.9,609.6 1402.8,611.8 1403.0,633.5 1404.0,634.1 1405.3,628.2 1406.4,631.2 1408.8,625.5 1409.2,624.2 1409.6,633.5 1410.0,626.6 1410.6,623.8 1410.7,608.2 1412.8,606.3 1413.1,611.1 1415.0,614.3 1415.2,645.5 1416.2,646.3 1417.5,634.4 1418.6,642.4 1421.0,633.8 1421.4,627.4 1421.8,645.6 1422.2,637.7 1422.8,634.5 1422.9,616.8 1425.0,614.6 1425.3,623.2 1427.2,629.0 1427.4,685.3 1428.4,686.8 1429.7,680.1 1430.8,680.7 1433.3,671.4 1433.7,674.9 1434.1,685.4 1434.5,669.0 1435.1,662.4 1435.2,625.5 1437.3,620.9 1437.6,625.5 1439.4,628.6 1439.6,658.7 1440.6,659.4 1441.9,654.6 1443.0,659.0 1445.5,649.8 1445.9,644.0 1446.3,658.9 1446.7,651.8 1447.3,649.0 1447.4,633.1 1449.5,631.2 1449.8,633.0 1451.7,634.2 1451.9,646.0 1452.1,646.3 1453.0,696.5 1453.9,711.1 1455.3,763.3 1456.3,789.2 1457.7,796.0 1459.1,796.0 1460.9,802.8 1464.7,798.9 1467.0,804.8 1470.8,804.8 1470.8,804.8 1473.3,804.8 1473.3,806.3 1479.9,806.3 1479.9,802.4 1484.8,802.4 1484.8,802.4 1487.8,802.4 1488.3,798.9 1489.2,798.9 1489.7,802.4 1495.3,802.4 1495.3,804.8 1501.6,804.8 1501.6,804.8 1504.8,804.8 1504.8,807.2 1507.6,807.2 1508.1,803.8 1509.1,803.8 1509.6,807.2 1516.4,807.2 1516.4,806.3 1523.9,806.3 1524.4,802.8 1525.4,802.8 1525.9,806.3 1531.8,806.3 1532.3,802.8 1533.3,802.8 1533.8,806.3 1537.7,806.3 1537.7,802.4 1542.9,802.4 1543.4,798.9 1544.4,798.9 1544.9,802.4 1553.1,802.4 1553.6,798.9 1554.6,798.9 1555.1,802.4 1559.4,802.4 1559.4,802.4 1565.0,802.4 1565.0,806.3 1570.6,806.3 1570.6,802.4 1579.1,802.4 1579.1,803.6 1587.6,803.6 1587.6,804.8 1595.5,804.8 1596.0,801.4 1597.0,801.4 1597.5,804.8 1600.3,804.8 1600.3,804.8 1607.0,804.8 1607.0,804.8 1613.7,804.8 1613.7,804.8 1622.3,804.8 1622.3,803.6 1625.3,803.6 1625.3,806.3 1628.8,806.3 1628.8,806.3 1637.0,806.3 1637.5,802.8 1638.5,802.8 1639.0,806.3 1645.7,806.3 1646.2,802.8 1647.2,802.8 1647.7,806.3 1654.6,806.3 1654.6,806.3 1659.0,806.3 1659.5,802.8 1660.5,802.8 1661.0,806.3 1665.2,806.3 1665.2,804.8 1669.6,804.8 1669.6,807.2 1671.7,807.2 1671.7,802.4 1675.7,802.4 1675.7,804.8 1684.6,804.8 1684.6,804.8 1687.2,804.8 1687.2,804.8 1691.1,804.8 1691.6,801.4 1692.6,801.4 1693.1,804.8 1698.1,804.8 1698.1,803.6 1702.9,803.6 1702.9,802.4 1708.9,802.4 1708.9,804.8 1712.8,804.8 1712.8,804.8 1717.8,804.8 1718.3,801.4 1719.3,801.4 1719.8,804.8 1728.4,804.8 1728.4,803.6 1731.0,803.6 1731.0,804.8 1734.8,804.8 1735.3,801.4 1736.3,801.4 1736.8,804.8 1738.9,804.8 1738.9,806.3 1747.4,806.3 1747.4,804.8 1749.7,804.8 1749.7,804.8 1758.4,804.8 1758.4,804.8 1761.9,804.8 1761.9,803.6 1767.6,803.6 1768.1,800.2 1769.1,800.2 1769.6,803.6 1774.7,803.6 1774.7,803.6 1779.1,803.6 1779.6,800.2 1780.6,800.2 1781.1,803.6 1784.9,803.6 1785.4,800.2 1786.4,800.2 1786.9,803.6 1794.0,803.6 1794.0,804.8 1799.6,804.8 1800.1,801.4 1801.1,801.4 1801.6,804.8 1806.7,804.8 1806.7,807.2 1811.7,807.2 1811.7,806.3 1820.5,806.3 1820.5,804.8 1827.0,804.8" fill="none" stroke="#d95319" stroke-width="2.1" stroke-linejoin="miter" stroke-miterlimit="2"/>
<rect x="705" y="325" width="1122" height="508" fill="none" stroke="#000" stroke-width="2"/>
<path d="M705.0 833v6M798.5 833v6M892.0 833v6M985.5 833v6M1079.0 833v6M1172.5 833v6M1266.0 833v6M1359.5 833v6M1453.0 833v6M1546.5 833v6M1640.0 833v6M1733.5 833v6M1827.0 833v6M705 374.6h-6M705 472.1h-6M705 569.7h-6M705 667.2h-6M705 764.8h-6" stroke="#000" stroke-width="2" fill="none"/>
<text x="705.0" y="859" font-size="20" fill="#262626" text-anchor="middle">0</text>
<text x="798.5" y="859" font-size="20" fill="#262626" text-anchor="middle">2</text>
<text x="892.0" y="859" font-size="20" fill="#262626" text-anchor="middle">4</text>
<text x="985.5" y="859" font-size="20" fill="#262626" text-anchor="middle">6</text>
<text x="1079.0" y="859" font-size="20" fill="#262626" text-anchor="middle">8</text>
<text x="1172.5" y="859" font-size="20" fill="#262626" text-anchor="middle">10</text>
<text x="1266.0" y="859" font-size="20" fill="#262626" text-anchor="middle">12</text>
<text x="1359.5" y="859" font-size="20" fill="#262626" text-anchor="middle">14</text>
<text x="1453.0" y="859" font-size="20" fill="#262626" text-anchor="middle">16</text>
<text x="1546.5" y="859" font-size="20" fill="#262626" text-anchor="middle">18</text>
<text x="1640.0" y="859" font-size="20" fill="#262626" text-anchor="middle">20</text>
<text x="1733.5" y="859" font-size="20" fill="#262626" text-anchor="middle">22</text>
<text x="1827.0" y="859" font-size="20" fill="#262626" text-anchor="middle">24</text>
<text x="690" y="381.6" font-size="20" fill="#262626" text-anchor="end">-40</text>
<text x="690" y="479.1" font-size="20" fill="#262626" text-anchor="end">-60</text>
<text x="690" y="576.7" font-size="20" fill="#262626" text-anchor="end">-80</text>
<text x="690" y="674.2" font-size="20" fill="#262626" text-anchor="end">-100</text>
<text x="690" y="771.8" font-size="20" fill="#262626" text-anchor="end">-120</text>
<text x="1249.0" y="902" font-size="20" fill="#262626" text-anchor="middle">Frequency (kHz)</text>
<text transform="translate(625,576.2) rotate(-90)" text-anchor="middle" font-size="20" fill="#262626">Power Spectrum (dB)</text>
<rect x="708" y="292" width="16" height="16" fill="#d95319"/>
<text x="732.5" y="307.5" font-size="23" fill="#1a1a1a">y</text>
<rect x="1979" y="325" width="1118" height="508" fill="#fff"/>
<path d="M2072.2 325V833M2165.3 325V833M2258.5 325V833M2351.7 325V833M2444.8 325V833M2538.0 325V833M2631.2 325V833M2724.3 325V833M2817.5 325V833M2910.7 325V833M3003.8 325V833M1979 374.6H3097M1979 472.1H3097M1979 569.7H3097M1979 667.2H3097M1979 764.8H3097" stroke="#d3d3d3" stroke-width="2" fill="none"/>
<polyline points="1979.0,433.1 1979.6,403.9 1980.9,408.7 1981.8,442.9 1983.2,472.1 1985.1,491.7 1986.0,481.9 1986.5,479.2 1986.9,445.8 1987.5,432.5 1987.6,357.6 1989.7,348.3 1990.0,369.4 1991.8,383.5 1992.0,520.8 1993.0,524.3 1994.3,518.6 1995.4,518.7 1997.9,510.1 1998.3,508.4 1998.7,522.1 1999.1,493.7 1999.7,482.3 1999.7,418.6 2001.8,410.7 2002.1,428.0 2004.0,439.6 2004.2,552.2 2005.2,555.1 2006.5,548.7 2007.6,554.1 2010.0,547.2 2010.4,544.0 2010.8,553.0 2011.2,526.5 2011.8,515.9 2011.9,456.6 2014.0,449.2 2014.3,463.8 2016.2,473.5 2016.4,568.2 2017.4,570.7 2018.7,567.5 2019.8,565.9 2022.2,560.9 2022.6,559.3 2023.0,568.8 2023.4,545.9 2024.0,536.7 2024.1,485.4 2026.2,479.0 2026.5,491.0 2028.4,499.0 2028.6,577.0 2029.6,579.0 2030.9,575.7 2032.0,573.2 2034.4,563.2 2034.8,562.7 2035.2,576.3 2035.6,543.5 2036.2,530.4 2036.3,456.9 2038.4,447.8 2038.7,464.4 2040.6,475.6 2040.8,584.0 2041.8,586.8 2043.1,581.6 2044.2,586.8 2046.6,576.6 2047.0,572.5 2047.4,582.7 2047.8,531.5 2048.4,511.0 2048.5,396.3 2050.6,381.9 2050.9,406.2 2052.8,422.4 2053.0,580.3 2054.0,584.3 2055.3,580.4 2056.4,582.4 2058.8,574.4 2059.2,565.2 2059.6,581.9 2060.0,551.8 2060.6,539.8 2060.7,472.3 2062.8,463.9 2063.1,476.3 2065.0,484.6 2065.2,565.7 2066.2,567.7 2067.5,555.8 2068.5,564.9 2071.0,558.0 2071.4,548.6 2071.8,564.9 2072.2,529.8 2072.8,515.8 2072.9,437.1 2075.0,427.3 2075.3,442.3 2077.1,452.3 2077.3,550.1 2078.3,552.6 2079.6,547.2 2080.7,551.6 2083.2,545.3 2083.6,539.2 2084.0,549.7 2084.4,513.5 2085.0,499.0 2085.1,417.9 2087.1,407.8 2087.4,424.7 2089.3,436.0 2089.5,545.9 2090.5,548.7 2091.8,541.7 2092.9,546.3 2095.3,539.4 2095.7,534.0 2096.1,546.9 2096.5,523.7 2097.1,514.4 2097.2,462.5 2099.3,456.1 2099.6,470.5 2101.5,480.1 2101.7,573.6 2102.7,576.0 2104.0,573.6 2105.1,575.9 2107.5,567.8 2107.9,562.4 2108.3,573.9 2108.7,547.3 2109.3,536.7 2109.4,477.2 2111.5,469.7 2111.8,482.8 2113.7,491.6 2113.9,576.8 2114.9,579.0 2116.2,576.1 2117.3,581.2 2119.7,568.7 2120.1,566.9 2120.5,576.9 2120.9,550.5 2121.5,540.0 2121.6,481.0 2123.7,473.6 2124.0,486.3 2125.9,494.7 2126.1,576.9 2127.1,579.0 2128.4,570.8 2129.5,576.2 2131.9,564.3 2132.3,562.8 2132.7,576.1 2133.1,539.7 2133.7,525.2 2133.8,443.8 2135.9,433.6 2136.2,449.1 2138.1,459.4 2138.3,559.8 2139.3,562.4 2140.6,553.0 2141.7,556.2 2144.1,551.3 2144.5,549.4 2144.9,560.2 2145.3,533.5 2145.9,522.9 2146.0,463.0 2148.1,455.6 2148.4,467.7 2150.3,475.9 2150.5,555.0 2151.5,557.0 2152.8,545.0 2153.9,558.0 2156.3,542.6 2156.7,541.0 2157.1,556.4 2157.5,548.9 2158.1,545.8 2158.2,528.9 2160.3,526.8 2160.6,532.2 2162.5,535.9 2162.7,571.2 2163.6,572.1 2164.9,569.3 2166.0,566.4 2168.5,556.1 2168.9,556.3 2169.3,569.7 2169.7,538.6 2170.3,526.1 2170.4,456.5 2172.4,447.8 2172.7,465.0 2174.6,476.4 2174.8,588.3 2175.8,591.2 2177.1,581.6 2178.2,585.7 2180.7,582.5 2181.0,576.3 2181.4,588.9 2181.8,560.9 2182.4,549.7 2182.5,486.8 2184.6,479.0 2184.9,491.2 2186.8,499.3 2187.0,578.4 2188.0,580.4 2189.3,573.1 2190.4,574.7 2192.8,565.3 2193.2,562.6 2193.6,578.4 2194.0,553.0 2194.6,542.9 2194.7,486.1 2196.8,479.0 2197.1,493.1 2199.0,502.5 2199.2,594.2 2200.2,596.5 2201.5,588.4 2202.6,590.3 2205.0,582.5 2205.4,580.0 2205.8,594.0 2206.2,562.8 2206.8,550.3 2206.9,480.4 2209.0,471.7 2209.3,484.7 2211.2,493.4 2211.4,578.3 2212.4,580.4 2213.7,575.7 2214.8,582.6 2217.2,571.8 2217.6,567.2 2218.0,578.8 2218.4,558.0 2219.0,549.8 2219.1,503.3 2221.2,497.5 2221.5,506.5 2223.4,512.4 2223.6,570.6 2224.6,572.1 2225.9,568.7 2227.0,566.4 2229.4,559.4 2229.8,556.3 2230.2,569.5 2230.6,536.7 2231.2,523.6 2231.3,450.1 2233.4,440.9 2233.7,457.1 2235.6,468.0 2235.8,573.3 2236.8,576.0 2238.1,567.5 2239.2,571.8 2241.6,564.0 2242.0,566.3 2242.4,573.4 2242.8,540.1 2243.4,526.8 2243.5,452.2 2245.6,442.9 2245.9,457.9 2247.8,467.9 2248.0,565.3 2249.0,567.7 2250.2,557.5 2251.3,562.9 2253.8,555.5 2254.2,552.8 2254.6,565.1 2255.0,532.1 2255.6,518.8 2255.7,444.8 2257.8,435.6 2258.0,451.0 2259.9,461.2 2260.1,561.3 2261.1,563.8 2262.4,555.0 2263.5,565.6 2266.0,549.3 2266.4,551.6 2266.8,562.4 2267.1,543.8 2267.7,536.4 2267.8,494.9 2269.9,489.7 2270.2,499.9 2272.1,506.7 2272.3,572.9 2273.3,574.6 2274.6,571.4 2275.7,574.4 2278.1,560.1 2278.5,562.8 2278.9,572.0 2279.3,539.8 2279.9,526.9 2280.0,454.8 2282.1,445.8 2282.4,462.7 2284.3,474.0 2284.5,584.0 2285.5,586.8 2286.8,577.1 2287.9,579.7 2290.3,574.6 2290.7,573.3 2291.1,584.9 2291.5,561.0 2292.1,551.4 2292.2,497.9 2294.3,491.2 2294.6,501.6 2296.5,508.6 2296.7,576.7 2297.7,578.5 2299.0,571.4 2300.1,574.2 2302.5,563.7 2302.9,562.7 2303.3,576.8 2303.7,556.1 2304.3,547.8 2304.4,501.4 2306.5,495.6 2306.8,507.2 2308.7,514.9 2308.9,590.2 2309.9,592.1 2311.2,583.4 2312.3,593.8 2314.7,583.4 2315.1,579.9 2315.5,591.6 2315.9,584.2 2316.5,581.3 2316.6,564.9 2318.7,562.9 2319.0,568.0 2320.9,571.5 2321.1,604.9 2322.1,605.8 2323.4,596.1 2324.5,605.3 2326.9,592.9 2327.3,595.9 2327.7,605.2 2328.1,598.4 2328.7,595.7 2328.8,580.4 2330.9,578.5 2331.2,583.3 2333.1,586.5 2333.3,617.7 2334.3,618.5 2335.5,615.4 2336.6,618.3 2339.1,604.6 2339.5,602.0 2339.9,617.5 2340.3,605.6 2340.9,600.8 2341.0,574.0 2343.1,570.7 2343.4,579.8 2345.2,585.9 2345.4,645.2 2346.4,646.8 2347.7,637.7 2348.8,646.4 2351.3,634.4 2351.7,632.5 2352.1,645.0 2352.5,622.5 2353.1,613.6 2353.1,563.3 2355.2,557.0 2355.5,565.9 2357.4,571.7 2357.6,629.2 2358.6,630.7 2359.9,623.7 2361.0,632.0 2363.4,614.6 2363.8,619.0 2364.2,628.1 2364.6,595.8 2365.2,582.8 2365.3,510.5 2367.4,501.4 2367.7,515.5 2369.6,524.8 2369.8,616.1 2370.8,618.5 2372.1,606.5 2373.2,611.8 2375.6,611.0 2376.0,604.2 2376.4,616.3 2376.8,589.5 2377.4,578.8 2377.5,518.7 2379.6,511.2 2379.9,523.3 2381.8,531.5 2382.0,610.6 2383.0,612.6 2384.3,602.2 2385.4,605.6 2387.8,600.9 2388.2,600.2 2388.6,611.2 2389.0,593.8 2389.6,586.8 2389.7,547.8 2391.8,542.9 2392.1,551.0 2394.0,556.3 2394.2,608.8 2395.2,610.2 2396.5,605.7 2397.6,603.4 2400.0,600.8 2400.4,594.8 2400.8,609.0 2401.2,593.6 2401.8,587.4 2401.9,553.0 2404.0,548.7 2404.3,556.7 2406.2,562.1 2406.4,614.2 2407.4,615.5 2408.7,611.7 2409.8,612.9 2412.2,598.9 2412.6,604.5 2413.0,613.9 2413.4,593.3 2414.0,585.0 2414.1,538.9 2416.2,533.1 2416.5,543.7 2418.4,550.7 2418.6,619.2 2419.6,620.9 2420.9,610.5 2421.9,618.4 2424.4,604.9 2424.8,604.3 2425.2,619.3 2425.6,599.3 2426.2,591.3 2426.3,546.5 2428.4,540.9 2428.7,550.1 2430.5,556.1 2430.7,615.5 2431.7,617.0 2433.0,612.3 2434.1,610.7 2436.6,605.0 2437.0,607.0 2437.4,615.3 2437.8,594.4 2438.4,586.0 2438.5,539.0 2440.5,533.1 2440.8,544.3 2442.7,551.8 2442.9,624.4 2443.9,626.3 2445.2,623.8 2446.3,623.9 2448.7,614.6 2449.1,613.6 2449.5,625.5 2449.9,616.0 2450.5,612.2 2450.6,590.9 2452.7,588.2 2453.0,595.3 2454.9,599.9 2455.1,645.6 2456.1,646.8 2457.4,643.0 2458.5,645.8 2460.9,636.4 2461.3,628.8 2461.7,645.4 2462.1,628.9 2462.7,622.2 2462.8,585.1 2464.9,580.4 2465.2,587.9 2467.1,592.9 2467.3,641.6 2468.3,642.9 2469.6,640.4 2470.7,638.0 2473.1,627.4 2473.5,631.9 2473.9,641.9 2474.3,630.4 2474.9,625.7 2475.0,599.8 2477.1,596.5 2477.4,599.6 2479.3,601.7 2479.5,621.9 2480.5,622.4 2481.8,610.9 2482.9,617.9 2485.3,606.3 2485.7,609.8 2486.1,621.4 2486.5,608.5 2487.1,603.4 2487.2,574.7 2489.3,571.2 2489.6,576.7 2491.5,580.3 2491.7,616.1 2492.7,617.0 2494.0,610.9 2495.1,615.6 2497.5,600.0 2497.9,601.5 2498.3,616.1 2498.7,604.9 2499.3,600.4 2499.4,575.3 2501.5,572.1 2501.8,577.9 2503.7,581.8 2503.9,619.5 2504.9,620.4 2506.2,614.5 2507.3,618.7 2509.7,610.4 2510.1,610.2 2510.5,618.8 2510.9,599.0 2511.5,591.0 2511.6,546.5 2513.7,540.9 2514.0,549.7 2515.9,555.6 2516.1,612.6 2517.0,614.1 2518.3,610.7 2519.4,608.4 2521.9,604.0 2522.3,595.2 2522.7,613.6 2523.1,607.9 2523.7,605.6 2523.8,592.8 2525.8,591.2 2526.1,593.7 2528.0,595.4 2528.2,611.7 2529.2,612.1 2530.5,607.3 2531.6,612.0 2534.1,599.8 2534.4,600.5 2534.8,611.3 2535.2,601.1 2535.8,597.0 2535.9,574.0 2538.0,571.2 2538.3,575.8 2540.2,579.0 2540.4,609.4 2541.4,610.2 2542.7,604.1 2543.8,603.3 2546.2,594.2 2546.6,592.5 2547.0,609.9 2547.4,606.2 2548.0,604.8 2548.1,596.6 2550.2,595.6 2550.5,597.8 2552.4,599.3 2552.6,613.7 2553.6,614.1 2554.9,605.5 2556.0,607.6 2558.4,597.6 2558.8,599.0 2559.2,612.7 2559.6,594.9 2560.2,587.7 2560.3,547.9 2562.4,542.9 2562.7,550.4 2564.6,555.4 2564.8,604.1 2565.8,605.3 2567.1,595.8 2568.2,607.3 2570.6,590.8 2571.0,591.2 2571.4,604.3 2571.8,591.6 2572.4,586.5 2572.5,558.1 2574.6,554.6 2574.9,559.3 2576.8,562.5 2577.0,593.3 2578.0,594.1 2579.3,584.3 2580.4,590.2 2582.8,584.0 2583.2,583.9 2583.6,593.7 2584.0,589.3 2584.6,587.6 2584.7,577.8 2586.8,576.5 2587.1,578.3 2589.0,579.6 2589.2,591.3 2590.2,591.6 2591.5,580.2 2592.6,592.8 2595.0,579.7 2595.4,578.5 2595.8,591.0 2596.2,583.4 2596.8,580.3 2596.9,563.1 2599.0,560.9 2599.3,564.9 2601.2,567.6 2601.4,593.4 2602.4,594.1 2603.6,588.7 2604.7,589.3 2607.2,577.2 2607.6,581.8 2608.0,593.4 2608.4,584.7 2609.0,581.3 2609.1,561.9 2611.2,559.5 2611.4,566.8 2613.3,571.7 2613.5,619.2 2614.5,620.4 2615.8,611.6 2616.9,619.9 2619.4,607.7 2619.8,606.8 2620.2,619.6 2620.5,609.4 2621.1,605.3 2621.2,582.3 2623.3,579.5 2623.6,587.5 2625.5,592.8 2625.7,644.9 2626.7,646.3 2628.0,642.2 2629.1,647.1 2631.5,636.9 2631.9,627.7 2632.3,644.9 2632.7,627.0 2633.3,619.9 2633.4,580.1 2635.5,575.1 2635.8,583.6 2637.7,589.3 2637.9,644.9 2638.9,646.3 2640.2,639.0 2641.3,646.6 2643.7,630.1 2644.1,626.8 2644.5,645.3 2644.9,632.6 2645.5,627.5 2645.6,599.1 2647.7,595.6 2648.0,599.2 2649.9,601.6 2650.1,625.2 2651.1,625.8 2652.4,619.0 2653.5,626.9 2655.9,616.6 2656.3,615.2 2656.7,624.9 2657.1,614.3 2657.7,610.1 2657.8,586.3 2659.9,583.4 2660.2,588.3 2662.1,591.6 2662.3,623.5 2663.3,624.3 2664.6,618.6 2665.7,625.9 2668.1,614.7 2668.5,612.1 2668.9,624.0 2669.3,619.5 2669.9,617.7 2670.0,607.5 2672.1,606.3 2672.4,609.6 2674.3,611.8 2674.5,633.5 2675.5,634.1 2676.8,626.1 2677.9,627.9 2680.3,619.5 2680.7,620.3 2681.1,633.5 2681.5,626.6 2682.1,623.8 2682.2,608.2 2684.3,606.3 2684.6,611.1 2686.5,614.3 2686.7,645.5 2687.7,646.3 2688.9,639.8 2690.0,643.6 2692.5,635.3 2692.9,633.2 2693.3,645.6 2693.7,637.7 2694.3,634.5 2694.4,616.8 2696.5,614.6 2696.8,623.2 2698.6,629.0 2698.8,685.3 2699.8,686.8 2701.1,683.7 2702.2,686.5 2704.7,670.0 2705.1,675.8 2705.5,685.4 2705.9,669.0 2706.4,662.4 2706.5,625.5 2708.6,620.9 2708.9,625.5 2710.8,628.6 2711.0,658.7 2712.0,659.4 2713.3,652.1 2714.4,655.7 2716.8,643.7 2717.2,647.6 2717.6,658.9 2718.0,651.8 2718.6,649.0 2718.7,633.1 2720.8,631.2 2721.1,633.0 2723.0,634.2 2723.2,646.0 2723.4,646.3 2724.3,696.5 2725.3,711.1 2726.7,763.3 2727.6,789.2 2729.0,796.0 2730.4,796.0 2732.3,802.8 2736.0,798.9 2738.3,804.8 2742.2,804.8 2742.7,801.4 2743.7,801.4 2744.2,804.8 2749.0,804.8 2749.0,803.6 2756.9,803.6 2756.9,804.8 2759.7,804.8 2759.7,806.3 2768.5,806.3 2768.5,804.8 2773.2,804.8 2773.2,802.4 2781.2,802.4 2781.2,804.8 2788.6,804.8 2789.1,801.4 2790.1,801.4 2790.6,804.8 2793.7,804.8 2793.7,804.8 2802.2,804.8 2802.2,807.2 2810.1,807.2 2810.1,804.8 2815.9,804.8 2816.4,801.4 2817.4,801.4 2817.9,804.8 2825.4,804.8 2825.9,801.4 2826.9,801.4 2827.4,804.8 2835.8,804.8 2835.8,803.6 2844.5,803.6 2844.5,802.4 2850.9,802.4 2850.9,804.8 2853.6,804.8 2853.6,802.4 2856.9,802.4 2856.9,802.4 2858.9,802.4 2858.9,806.3 2862.8,806.3 2862.8,804.8 2868.1,804.8 2868.6,801.4 2869.6,801.4 2870.1,804.8 2873.9,804.8 2873.9,807.2 2880.4,807.2 2880.9,803.8 2881.9,803.8 2882.4,807.2 2885.7,807.2 2885.7,807.2 2890.6,807.2 2890.6,807.2 2895.6,807.2 2895.6,806.3 2897.8,806.3 2897.8,806.3 2902.3,806.3 2902.3,804.8 2909.9,804.8 2909.9,802.4 2912.3,802.4 2912.3,804.8 2916.5,804.8 2916.5,804.8 2921.7,804.8 2921.7,803.6 2924.5,803.6 2924.5,802.4 2927.8,802.4 2928.3,798.9 2929.3,798.9 2929.8,802.4 2934.7,802.4 2934.7,802.4 2937.7,802.4 2937.7,804.8 2939.8,804.8 2939.8,806.3 2942.2,806.3 2942.7,802.8 2943.7,802.8 2944.2,806.3 2948.9,806.3 2948.9,803.6 2956.0,803.6 2956.0,804.8 2960.3,804.8 2960.8,801.4 2961.8,801.4 2962.3,804.8 2970.8,804.8 2970.8,804.8 2975.0,804.8 2975.0,803.6 2983.8,803.6 2983.8,804.8 2985.8,804.8 2985.8,803.6 2990.8,803.6 2990.8,802.4 2999.5,802.4 3000.0,798.9 3001.0,798.9 3001.5,802.4 3005.9,802.4 3005.9,806.3 3008.5,806.3 3008.5,804.8 3013.1,804.8 3013.1,804.8 3017.4,804.8 3017.4,806.3 3019.6,806.3 3019.6,807.2 3026.9,807.2 3027.4,803.8 3028.4,803.8 3028.9,807.2 3031.1,807.2 3031.6,803.8 3032.6,803.8 3033.1,807.2 3041.5,807.2 3041.5,807.2 3044.0,807.2 3044.0,803.6 3047.9,803.6 3047.9,802.4 3050.2,802.4 3050.2,807.2 3054.4,807.2 3054.4,804.8 3061.4,804.8 3061.4,807.2 3070.0,807.2 3070.5,803.8 3071.5,803.8 3072.0,807.2 3079.7,807.2 3080.2,803.8 3081.2,803.8 3081.7,807.2 3088.7,807.2 3088.7,806.3 3096.2,806.3 3096.2,806.3 3097.0,806.3" fill="none" stroke="#d95319" stroke-width="2.1" stroke-linejoin="miter" stroke-miterlimit="2"/>
<rect x="1979" y="325" width="1118" height="508" fill="none" stroke="#000" stroke-width="2"/>
<path d="M1979.0 833v6M2072.2 833v6M2165.3 833v6M2258.5 833v6M2351.7 833v6M2444.8 833v6M2538.0 833v6M2631.2 833v6M2724.3 833v6M2817.5 833v6M2910.7 833v6M3003.8 833v6M3097.0 833v6M1979 374.6h-6M1979 472.1h-6M1979 569.7h-6M1979 667.2h-6M1979 764.8h-6" stroke="#000" stroke-width="2" fill="none"/>
<text x="1979.0" y="859" font-size="20" fill="#262626" text-anchor="middle">0</text>
<text x="2072.2" y="859" font-size="20" fill="#262626" text-anchor="middle">2</text>
<text x="2165.3" y="859" font-size="20" fill="#262626" text-anchor="middle">4</text>
<text x="2258.5" y="859" font-size="20" fill="#262626" text-anchor="middle">6</text>
<text x="2351.7" y="859" font-size="20" fill="#262626" text-anchor="middle">8</text>
<text x="2444.8" y="859" font-size="20" fill="#262626" text-anchor="middle">10</text>
<text x="2538.0" y="859" font-size="20" fill="#262626" text-anchor="middle">12</text>
<text x="2631.2" y="859" font-size="20" fill="#262626" text-anchor="middle">14</text>
<text x="2724.3" y="859" font-size="20" fill="#262626" text-anchor="middle">16</text>
<text x="2817.5" y="859" font-size="20" fill="#262626" text-anchor="middle">18</text>
<text x="2910.7" y="859" font-size="20" fill="#262626" text-anchor="middle">20</text>
<text x="3003.8" y="859" font-size="20" fill="#262626" text-anchor="middle">22</text>
<text x="3097.0" y="859" font-size="20" fill="#262626" text-anchor="middle">24</text>
<text x="1964" y="381.6" font-size="20" fill="#262626" text-anchor="end">-40</text>
<text x="1964" y="479.1" font-size="20" fill="#262626" text-anchor="end">-60</text>
<text x="1964" y="576.7" font-size="20" fill="#262626" text-anchor="end">-80</text>
<text x="1964" y="674.2" font-size="20" fill="#262626" text-anchor="end">-100</text>
<text x="1964" y="771.8" font-size="20" fill="#262626" text-anchor="end">-120</text>
<text x="2521.0" y="902" font-size="20" fill="#262626" text-anchor="middle">Frequency (kHz)</text>
<text transform="translate(1899,576.2) rotate(-90)" text-anchor="middle" font-size="20" fill="#262626">Power Spectrum (dB)</text>
<rect x="1982" y="292" width="16" height="16" fill="#d95319"/>
<text x="2006.5" y="307.5" font-size="23" fill="#1a1a1a">y</text>
<rect x="705" y="993" width="1118" height="508" fill="#fff"/>
<path d="M798.2 993V1501M891.3 993V1501M984.5 993V1501M1077.7 993V1501M1170.8 993V1501M1264.0 993V1501M1357.2 993V1501M1450.3 993V1501M1543.5 993V1501M1636.7 993V1501M1729.8 993V1501M705 1042.6H1823M705 1140.1H1823M705 1237.7H1823M705 1335.2H1823M705 1432.8H1823" stroke="#d3d3d3" stroke-width="2" fill="none"/>
<polyline points="705.0,1101.1 705.6,1071.9 706.9,1076.7 707.8,1110.9 709.2,1140.1 711.1,1159.7 712.0,1149.9 712.5,1147.2 712.9,1113.8 713.5,1100.5 713.6,1025.6 715.7,1016.3 716.0,1037.4 717.8,1051.5 718.0,1188.8 719.0,1192.3 720.3,1185.1 721.4,1194.7 723.9,1175.9 724.3,1179.6 724.7,1190.1 725.1,1161.7 725.7,1150.3 725.7,1086.6 727.8,1078.7 728.1,1096.0 730.0,1107.6 730.2,1220.2 731.2,1223.1 732.5,1213.9 733.6,1224.0 736.0,1213.4 736.4,1204.9 736.8,1221.0 737.2,1194.5 737.8,1183.9 737.9,1124.6 740.0,1117.2 740.3,1131.8 742.2,1141.5 742.4,1236.2 743.4,1238.7 744.7,1231.7 745.8,1233.5 748.2,1225.5 748.6,1223.9 749.0,1236.8 749.4,1213.9 750.0,1204.7 750.1,1153.4 752.2,1147.0 752.5,1159.0 754.4,1167.0 754.6,1245.0 755.6,1247.0 756.9,1240.7 758.0,1247.8 760.4,1235.7 760.8,1230.9 761.2,1244.3 761.6,1211.5 762.2,1198.4 762.3,1124.9 764.4,1115.8 764.7,1132.4 766.6,1143.6 766.8,1252.0 767.8,1254.8 769.1,1247.6 770.2,1251.9 772.6,1245.9 773.0,1240.9 773.4,1250.7 773.8,1199.5 774.4,1179.0 774.5,1064.3 776.6,1049.9 776.9,1074.2 778.8,1090.4 779.0,1248.3 780.0,1252.3 781.3,1248.9 782.4,1254.1 784.8,1238.9 785.2,1240.5 785.6,1249.9 786.0,1219.8 786.6,1207.8 786.7,1140.3 788.8,1131.9 789.1,1144.3 791.0,1152.6 791.2,1233.7 792.2,1235.7 793.5,1229.2 794.5,1228.5 797.0,1218.9 797.4,1224.3 797.8,1232.9 798.2,1197.8 798.8,1183.8 798.9,1105.1 801.0,1095.3 801.3,1110.3 803.1,1120.3 803.3,1218.1 804.3,1220.6 805.6,1216.9 806.7,1218.6 809.2,1204.6 809.6,1208.6 810.0,1217.7 810.4,1181.5 811.0,1167.0 811.1,1085.9 813.1,1075.8 813.4,1092.7 815.3,1104.0 815.5,1213.9 816.5,1216.7 817.8,1209.0 818.9,1211.6 821.3,1202.0 821.7,1199.4 822.1,1214.9 822.5,1191.7 823.1,1182.4 823.2,1130.5 825.3,1124.1 825.6,1138.5 827.5,1148.1 827.7,1241.6 828.7,1244.0 830.0,1238.7 831.1,1243.8 833.5,1234.1 833.9,1231.8 834.3,1241.9 834.7,1215.3 835.3,1204.7 835.4,1145.2 837.5,1137.7 837.8,1150.8 839.7,1159.6 839.9,1244.8 840.9,1247.0 842.2,1242.0 843.3,1245.1 845.7,1237.8 846.1,1234.9 846.5,1244.9 846.9,1218.5 847.5,1208.0 847.6,1149.0 849.7,1141.6 850.0,1154.3 851.9,1162.7 852.1,1244.9 853.1,1247.0 854.4,1241.8 855.5,1240.6 857.9,1237.8 858.3,1236.6 858.7,1244.1 859.1,1207.7 859.7,1193.2 859.8,1111.8 861.9,1101.6 862.2,1117.1 864.1,1127.4 864.3,1227.8 865.3,1230.4 866.6,1225.5 867.7,1230.4 870.1,1217.9 870.5,1214.3 870.9,1228.2 871.3,1201.5 871.9,1190.9 872.0,1131.0 874.1,1123.6 874.4,1135.7 876.3,1143.9 876.5,1223.0 877.5,1225.0 878.8,1221.6 879.9,1222.9 882.3,1217.3 882.7,1215.2 883.1,1224.4 883.5,1216.9 884.1,1213.8 884.2,1196.9 886.3,1194.8 886.6,1200.2 888.5,1203.9 888.7,1239.2 889.6,1240.1 890.9,1229.1 892.0,1240.3 894.5,1228.4 894.9,1226.7 895.3,1237.7 895.7,1206.6 896.3,1194.1 896.4,1124.5 898.4,1115.8 898.7,1133.0 900.6,1144.4 900.8,1256.3 901.8,1259.2 903.1,1248.2 904.2,1259.3 906.7,1251.4 907.0,1243.5 907.4,1256.9 907.8,1228.9 908.4,1217.7 908.5,1154.8 910.6,1147.0 910.9,1159.2 912.8,1167.3 913.0,1246.4 914.0,1248.4 915.3,1237.9 916.4,1249.0 918.8,1240.4 919.2,1233.7 919.6,1246.4 920.0,1221.0 920.6,1210.9 920.7,1154.1 922.8,1147.0 923.1,1161.1 925.0,1170.5 925.2,1262.2 926.2,1264.5 927.5,1260.4 928.6,1261.1 931.0,1249.6 931.4,1248.3 931.8,1262.0 932.2,1230.8 932.8,1218.3 932.9,1148.4 935.0,1139.7 935.3,1152.7 937.2,1161.4 937.4,1246.3 938.4,1248.4 939.7,1245.9 940.8,1244.7 943.2,1234.2 943.6,1235.3 944.0,1246.8 944.4,1226.0 945.0,1217.8 945.1,1171.3 947.2,1165.5 947.5,1174.5 949.4,1180.4 949.6,1238.6 950.6,1240.1 951.9,1237.3 953.0,1239.3 955.4,1232.4 955.8,1220.6 956.2,1237.5 956.6,1204.7 957.2,1191.6 957.3,1118.1 959.4,1108.9 959.7,1125.1 961.6,1136.0 961.8,1241.3 962.8,1244.0 964.1,1241.2 965.2,1239.3 967.6,1227.8 968.0,1226.3 968.4,1241.4 968.8,1208.1 969.4,1194.8 969.5,1120.2 971.6,1110.9 971.9,1125.9 973.8,1135.9 974.0,1233.3 975.0,1235.7 976.2,1225.3 977.3,1234.2 979.8,1224.8 980.2,1219.9 980.6,1233.1 981.0,1200.1 981.6,1186.8 981.7,1112.8 983.8,1103.6 984.0,1119.0 985.9,1129.2 986.1,1229.3 987.1,1231.8 988.4,1228.6 989.5,1234.0 992.0,1219.7 992.4,1217.4 992.8,1230.4 993.1,1211.8 993.7,1204.4 993.8,1162.9 995.9,1157.7 996.2,1167.9 998.1,1174.7 998.3,1240.9 999.3,1242.6 1000.6,1236.2 1001.7,1237.3 1004.1,1228.8 1004.5,1231.3 1004.9,1240.0 1005.3,1207.8 1005.9,1194.9 1006.0,1122.8 1008.1,1113.8 1008.4,1130.7 1010.3,1142.0 1010.5,1252.0 1011.5,1254.8 1012.8,1247.1 1013.9,1250.8 1016.3,1243.6 1016.7,1242.4 1017.1,1252.9 1017.5,1229.0 1018.1,1219.4 1018.2,1165.9 1020.3,1159.2 1020.6,1169.6 1022.5,1176.6 1022.7,1244.7 1023.7,1246.5 1025.0,1234.4 1026.1,1242.4 1028.5,1235.1 1028.9,1236.2 1029.3,1244.8 1029.7,1224.1 1030.3,1215.8 1030.4,1169.4 1032.5,1163.6 1032.8,1175.2 1034.7,1182.9 1034.9,1258.2 1035.9,1260.1 1037.2,1250.4 1038.3,1254.0 1040.7,1248.8 1041.1,1250.2 1041.5,1259.6 1041.9,1252.2 1042.5,1249.3 1042.6,1232.9 1044.7,1230.9 1045.0,1236.0 1046.9,1239.5 1047.1,1272.9 1048.1,1273.8 1049.4,1263.9 1050.5,1268.4 1052.9,1260.2 1053.3,1260.2 1053.7,1273.2 1054.1,1266.4 1054.7,1263.7 1054.8,1248.4 1056.9,1246.5 1057.2,1251.3 1059.1,1254.5 1059.3,1285.7 1060.3,1286.5 1061.5,1280.1 1062.6,1279.7 1065.1,1274.9 1065.5,1275.2 1065.9,1285.5 1066.3,1273.6 1066.9,1268.8 1067.0,1242.0 1069.1,1238.7 1069.4,1247.8 1071.2,1253.9 1071.4,1313.2 1072.4,1314.8 1073.7,1311.2 1074.8,1316.3 1077.3,1301.8 1077.7,1301.5 1078.1,1313.0 1078.5,1290.5 1079.1,1281.6 1079.1,1231.3 1081.2,1225.0 1081.5,1233.9 1083.4,1239.7 1083.6,1297.2 1084.6,1298.7 1085.9,1288.7 1087.0,1299.8 1089.4,1290.8 1089.8,1287.5 1090.2,1296.1 1090.6,1263.8 1091.2,1250.8 1091.3,1178.5 1093.4,1169.4 1093.7,1183.5 1095.6,1192.8 1095.8,1284.1 1096.8,1286.5 1098.1,1276.2 1099.2,1285.0 1101.6,1273.6 1102.0,1267.7 1102.4,1284.3 1102.8,1257.5 1103.4,1246.8 1103.5,1186.7 1105.6,1179.2 1105.9,1191.3 1107.8,1199.5 1108.0,1278.6 1109.0,1280.6 1110.3,1271.0 1111.4,1281.4 1113.8,1269.9 1114.2,1269.3 1114.6,1279.2 1115.0,1261.8 1115.6,1254.8 1115.7,1215.8 1117.8,1210.9 1118.1,1219.0 1120.0,1224.3 1120.2,1276.8 1121.2,1278.2 1122.5,1274.1 1123.6,1280.0 1126.0,1267.1 1126.4,1261.1 1126.8,1277.0 1127.2,1261.6 1127.8,1255.4 1127.9,1221.0 1130.0,1216.7 1130.3,1224.7 1132.2,1230.1 1132.4,1282.2 1133.4,1283.5 1134.7,1273.4 1135.8,1278.1 1138.2,1273.3 1138.6,1265.6 1139.0,1281.9 1139.4,1261.3 1140.0,1253.0 1140.1,1206.9 1142.2,1201.1 1142.5,1211.7 1144.4,1218.7 1144.6,1287.2 1145.6,1288.9 1146.9,1286.1 1147.9,1282.4 1150.4,1278.5 1150.8,1273.2 1151.2,1287.3 1151.6,1267.3 1152.2,1259.3 1152.3,1214.5 1154.4,1208.9 1154.7,1218.1 1156.5,1224.1 1156.7,1283.5 1157.7,1285.0 1159.0,1276.4 1160.1,1286.6 1162.6,1270.7 1163.0,1268.5 1163.4,1283.3 1163.8,1262.4 1164.4,1254.0 1164.5,1207.0 1166.5,1201.1 1166.8,1212.3 1168.7,1219.8 1168.9,1292.4 1169.9,1294.3 1171.2,1283.1 1172.3,1290.5 1174.7,1278.6 1175.1,1278.5 1175.5,1293.5 1175.9,1284.0 1176.5,1280.2 1176.6,1258.9 1178.7,1256.2 1179.0,1263.3 1180.9,1267.9 1181.1,1313.6 1182.1,1314.8 1183.4,1306.3 1184.5,1315.3 1186.9,1302.8 1187.3,1299.5 1187.7,1313.4 1188.1,1296.9 1188.7,1290.2 1188.8,1253.1 1190.9,1248.4 1191.2,1255.9 1193.1,1260.9 1193.3,1309.6 1194.3,1310.9 1195.6,1308.0 1196.7,1304.1 1199.1,1302.0 1199.5,1297.6 1199.9,1309.9 1200.3,1298.4 1200.9,1293.7 1201.0,1267.8 1203.1,1264.5 1203.4,1267.6 1205.3,1269.7 1205.5,1289.9 1206.5,1290.4 1207.8,1286.5 1208.9,1283.3 1211.3,1275.1 1211.7,1278.7 1212.1,1289.4 1212.5,1276.5 1213.1,1271.4 1213.2,1242.7 1215.3,1239.2 1215.6,1244.7 1217.5,1248.3 1217.7,1284.1 1218.7,1285.0 1220.0,1274.0 1221.1,1279.2 1223.5,1271.1 1223.9,1268.7 1224.3,1284.1 1224.7,1272.9 1225.3,1268.4 1225.4,1243.3 1227.5,1240.1 1227.8,1245.9 1229.7,1249.8 1229.9,1287.5 1230.9,1288.4 1232.2,1282.8 1233.3,1287.1 1235.7,1276.7 1236.1,1270.4 1236.5,1286.8 1236.9,1267.0 1237.5,1259.0 1237.6,1214.5 1239.7,1208.9 1240.0,1217.7 1241.9,1223.6 1242.1,1280.6 1243.0,1282.1 1244.3,1272.1 1245.4,1278.2 1247.9,1271.8 1248.3,1269.9 1248.7,1281.6 1249.1,1275.9 1249.7,1273.6 1249.8,1260.8 1251.8,1259.2 1252.1,1261.7 1254.0,1263.4 1254.2,1279.7 1255.2,1280.1 1256.5,1273.9 1257.6,1279.0 1260.1,1267.9 1260.4,1268.6 1260.8,1279.3 1261.2,1269.1 1261.8,1265.0 1261.9,1242.0 1264.0,1239.2 1264.3,1243.8 1266.2,1247.0 1266.4,1277.4 1267.4,1278.2 1268.7,1275.7 1269.8,1271.0 1272.2,1266.3 1272.6,1264.1 1273.0,1277.9 1273.4,1274.2 1274.0,1272.8 1274.1,1264.6 1276.2,1263.6 1276.5,1265.8 1278.4,1267.3 1278.6,1281.7 1279.6,1282.1 1280.9,1273.6 1282.0,1276.5 1284.4,1266.6 1284.8,1264.4 1285.2,1280.7 1285.6,1262.9 1286.2,1255.7 1286.3,1215.9 1288.4,1210.9 1288.7,1218.4 1290.6,1223.4 1290.8,1272.1 1291.8,1273.3 1293.1,1267.0 1294.2,1275.1 1296.6,1262.5 1297.0,1260.0 1297.4,1272.3 1297.8,1259.6 1298.4,1254.5 1298.5,1226.1 1300.6,1222.6 1300.9,1227.3 1302.8,1230.5 1303.0,1261.3 1304.0,1262.1 1305.3,1251.8 1306.4,1259.6 1308.8,1248.4 1309.2,1251.9 1309.6,1261.7 1310.0,1257.3 1310.6,1255.6 1310.7,1245.8 1312.8,1244.5 1313.1,1246.3 1315.0,1247.6 1315.2,1259.3 1316.2,1259.6 1317.5,1255.9 1318.6,1253.1 1321.0,1249.3 1321.4,1242.9 1321.8,1259.0 1322.2,1251.4 1322.8,1248.3 1322.9,1231.1 1325.0,1228.9 1325.3,1232.9 1327.2,1235.6 1327.4,1261.4 1328.4,1262.1 1329.6,1258.9 1330.7,1257.2 1333.2,1246.0 1333.6,1246.0 1334.0,1261.4 1334.4,1252.7 1335.0,1249.3 1335.1,1229.9 1337.2,1227.5 1337.4,1234.8 1339.3,1239.7 1339.5,1287.2 1340.5,1288.4 1341.8,1278.3 1342.9,1290.6 1345.4,1280.5 1345.8,1272.7 1346.2,1287.6 1346.5,1277.4 1347.1,1273.3 1347.2,1250.3 1349.3,1247.5 1349.6,1255.5 1351.5,1260.8 1351.7,1312.9 1352.7,1314.3 1354.0,1305.1 1355.1,1315.6 1357.5,1305.7 1357.9,1295.9 1358.3,1312.9 1358.7,1295.0 1359.3,1287.9 1359.4,1248.1 1361.5,1243.1 1361.8,1251.6 1363.7,1257.3 1363.9,1312.9 1364.9,1314.3 1366.2,1309.0 1367.3,1308.8 1369.7,1299.2 1370.1,1297.8 1370.5,1313.3 1370.9,1300.6 1371.5,1295.5 1371.6,1267.1 1373.7,1263.6 1374.0,1267.2 1375.9,1269.6 1376.1,1293.2 1377.1,1293.8 1378.4,1284.3 1379.5,1294.1 1381.9,1278.3 1382.3,1278.1 1382.7,1292.9 1383.1,1282.3 1383.7,1278.1 1383.8,1254.3 1385.9,1251.4 1386.2,1256.3 1388.1,1259.6 1388.3,1291.5 1389.3,1292.3 1390.6,1287.4 1391.7,1291.6 1394.1,1279.0 1394.5,1273.7 1394.9,1292.0 1395.3,1287.5 1395.9,1285.7 1396.0,1275.5 1398.1,1274.3 1398.4,1277.6 1400.3,1279.8 1400.5,1301.5 1401.5,1302.1 1402.8,1295.2 1403.9,1302.0 1406.3,1285.4 1406.7,1287.6 1407.1,1301.5 1407.5,1294.6 1408.1,1291.8 1408.2,1276.2 1410.3,1274.3 1410.6,1279.1 1412.5,1282.3 1412.7,1313.5 1413.7,1314.3 1414.9,1306.1 1416.0,1310.7 1418.5,1304.6 1418.9,1300.9 1419.3,1313.6 1419.7,1305.7 1420.3,1302.5 1420.4,1284.8 1422.5,1282.6 1422.8,1291.2 1424.6,1297.0 1424.8,1353.3 1425.8,1354.8 1427.1,1350.4 1428.2,1353.3 1430.7,1341.2 1431.1,1342.3 1431.5,1353.4 1431.9,1337.0 1432.4,1330.4 1432.5,1293.5 1434.6,1288.9 1434.9,1293.5 1436.8,1296.6 1437.0,1326.7 1438.0,1327.4 1439.3,1321.8 1440.4,1326.2 1442.8,1312.4 1443.2,1315.1 1443.6,1326.9 1444.0,1319.8 1444.6,1317.0 1444.7,1301.1 1446.8,1299.2 1447.1,1301.0 1449.0,1302.2 1449.2,1314.0 1449.4,1314.3 1450.3,1364.5 1451.3,1379.1 1452.7,1431.3 1453.6,1457.2 1455.0,1464.0 1456.4,1464.0 1458.3,1470.8 1462.0,1466.9 1464.3,1472.8 1471.7,1472.8 1472.2,1469.4 1473.1,1469.4 1473.6,1472.8 1481.6,1472.8 1481.6,1474.3 1487.5,1474.3 1487.5,1472.8 1491.2,1472.8 1491.2,1474.3 1498.4,1474.3 1498.4,1474.3 1507.3,1474.3 1507.3,1471.6 1511.6,1471.6 1512.1,1468.2 1513.1,1468.2 1513.6,1471.6 1517.1,1471.6 1517.1,1472.8 1521.2,1472.8 1521.2,1471.6 1527.7,1471.6 1527.7,1470.4 1536.1,1470.4 1536.1,1475.2 1538.1,1475.2 1538.6,1471.8 1539.6,1471.8 1540.1,1475.2 1543.1,1475.2 1543.1,1474.3 1548.0,1474.3 1548.0,1472.8 1551.0,1472.8 1551.5,1469.4 1552.5,1469.4 1553.0,1472.8 1559.5,1472.8 1560.0,1469.4 1561.0,1469.4 1561.5,1472.8 1563.5,1472.8 1563.5,1472.8 1569.1,1472.8 1569.1,1474.3 1575.2,1474.3 1575.2,1472.8 1579.7,1472.8 1579.7,1472.8 1582.7,1472.8 1582.7,1472.8 1589.6,1472.8 1589.6,1472.8 1596.0,1472.8 1596.0,1471.6 1600.8,1471.6 1600.8,1472.8 1603.2,1472.8 1603.2,1471.6 1609.3,1471.6 1609.3,1470.4 1617.9,1470.4 1617.9,1472.8 1621.0,1472.8 1621.5,1469.4 1622.5,1469.4 1623.0,1472.8 1625.4,1472.8 1625.9,1469.4 1626.9,1469.4 1627.4,1472.8 1630.7,1472.8 1631.2,1469.4 1632.2,1469.4 1632.7,1472.8 1641.0,1472.8 1641.5,1469.4 1642.5,1469.4 1643.0,1472.8 1649.3,1472.8 1649.3,1472.8 1652.3,1472.8 1652.8,1469.4 1653.8,1469.4 1654.3,1472.8 1660.5,1472.8 1660.5,1475.2 1665.4,1475.2 1665.4,1470.4 1669.5,1470.4 1669.5,1472.8 1678.5,1472.8 1678.5,1474.3 1685.4,1474.3 1685.9,1470.8 1686.9,1470.8 1687.4,1474.3 1695.3,1474.3 1695.3,1474.3 1697.9,1474.3 1697.9,1472.8 1701.4,1472.8 1701.9,1469.4 1702.9,1469.4 1703.4,1472.8 1707.0,1472.8 1707.5,1469.4 1708.5,1469.4 1709.0,1472.8 1713.3,1472.8 1713.3,1475.2 1721.9,1475.2 1721.9,1472.8 1725.8,1472.8 1725.8,1474.3 1732.5,1474.3 1732.5,1471.6 1736.6,1471.6 1736.6,1472.8 1739.2,1472.8 1739.2,1472.8 1743.0,1472.8 1743.5,1469.4 1744.5,1469.4 1745.0,1472.8 1752.1,1472.8 1752.1,1475.2 1760.5,1475.2 1761.0,1471.8 1762.0,1471.8 1762.5,1475.2 1767.2,1475.2 1767.2,1474.3 1775.5,1474.3 1775.5,1475.2 1784.4,1475.2 1784.4,1470.4 1789.6,1470.4 1789.6,1475.2 1791.7,1475.2 1792.2,1471.8 1793.1,1471.8 1793.6,1475.2 1802.3,1475.2 1802.8,1471.8 1803.8,1471.8 1804.3,1475.2 1812.4,1475.2 1812.4,1474.3 1818.8,1474.3 1819.3,1470.8 1820.3,1470.8 1820.8,1474.3 1823.0,1474.3" fill="none" stroke="#d95319" stroke-width="2.1" stroke-linejoin="miter" stroke-miterlimit="2"/>
<rect x="705" y="993" width="1118" height="508" fill="none" stroke="#000" stroke-width="2"/>
<path d="M705.0 1501v6M798.2 1501v6M891.3 1501v6M984.5 1501v6M1077.7 1501v6M1170.8 1501v6M1264.0 1501v6M1357.2 1501v6M1450.3 1501v6M1543.5 1501v6M1636.7 1501v6M1729.8 1501v6M1823.0 1501v6M705 1042.6h-6M705 1140.1h-6M705 1237.7h-6M705 1335.2h-6M705 1432.8h-6" stroke="#000" stroke-width="2" fill="none"/>
<text x="705.0" y="1527" font-size="20" fill="#262626" text-anchor="middle">0</text>
<text x="798.2" y="1527" font-size="20" fill="#262626" text-anchor="middle">2</text>
<text x="891.3" y="1527" font-size="20" fill="#262626" text-anchor="middle">4</text>
<text x="984.5" y="1527" font-size="20" fill="#262626" text-anchor="middle">6</text>
<text x="1077.7" y="1527" font-size="20" fill="#262626" text-anchor="middle">8</text>
<text x="1170.8" y="1527" font-size="20" fill="#262626" text-anchor="middle">10</text>
<text x="1264.0" y="1527" font-size="20" fill="#262626" text-anchor="middle">12</text>
<text x="1357.2" y="1527" font-size="20" fill="#262626" text-anchor="middle">14</text>
<text x="1450.3" y="1527" font-size="20" fill="#262626" text-anchor="middle">16</text>
<text x="1543.5" y="1527" font-size="20" fill="#262626" text-anchor="middle">18</text>
<text x="1636.7" y="1527" font-size="20" fill="#262626" text-anchor="middle">20</text>
<text x="1729.8" y="1527" font-size="20" fill="#262626" text-anchor="middle">22</text>
<text x="1823.0" y="1527" font-size="20" fill="#262626" text-anchor="middle">24</text>
<text x="690" y="1049.6" font-size="20" fill="#262626" text-anchor="end">-40</text>
<text x="690" y="1147.1" font-size="20" fill="#262626" text-anchor="end">-60</text>
<text x="690" y="1244.7" font-size="20" fill="#262626" text-anchor="end">-80</text>
<text x="690" y="1342.2" font-size="20" fill="#262626" text-anchor="end">-100</text>
<text x="690" y="1439.8" font-size="20" fill="#262626" text-anchor="end">-120</text>
<text x="1247.0" y="1570" font-size="20" fill="#262626" text-anchor="middle">Frequency (kHz)</text>
<text transform="translate(625,1244.2) rotate(-90)" text-anchor="middle" font-size="20" fill="#262626">Power Spectrum (dB)</text>
<rect x="708" y="960" width="16" height="16" fill="#d95319"/>
<text x="732.5" y="975.5" font-size="23" fill="#1a1a1a">y</text>
<rect x="1980" y="994.5" width="1116.5" height="505.29999999999995" fill="#fff"/>
<path d="M2073.0 994.5V1499.8M2166.1 994.5V1499.8M2259.1 994.5V1499.8M2352.2 994.5V1499.8M2445.2 994.5V1499.8M2538.2 994.5V1499.8M2631.3 994.5V1499.8M2724.3 994.5V1499.8M2817.4 994.5V1499.8M2910.4 994.5V1499.8M3003.5 994.5V1499.8M1980 1044.1H3096.5M1980 1141.6H3096.5M1980 1239.2H3096.5M1980 1336.8H3096.5M1980 1434.3H3096.5" stroke="#d3d3d3" stroke-width="2" fill="none"/>
<polyline points="1980.0,1102.6 1980.6,1073.4 1981.9,1078.2 1982.8,1112.4 1984.2,1141.6 1986.0,1161.2 1987.0,1151.4 1987.5,1148.7 1987.9,1115.3 1988.5,1102.0 1988.6,1027.1 1990.6,1017.8 1990.9,1038.9 1992.8,1053.0 1993.0,1190.3 1994.0,1193.8 1995.3,1190.0 1996.4,1196.0 1998.8,1185.5 1999.2,1175.0 1999.6,1191.6 2000.0,1163.2 2000.6,1151.8 2000.7,1088.1 2002.8,1080.2 2003.1,1097.5 2005.0,1109.1 2005.2,1221.7 2006.2,1224.6 2007.5,1218.8 2008.6,1225.6 2011.0,1217.0 2011.4,1214.4 2011.8,1222.5 2012.2,1196.0 2012.8,1185.4 2012.9,1126.1 2015.0,1118.7 2015.3,1133.3 2017.2,1143.0 2017.4,1237.7 2018.4,1240.2 2019.7,1231.0 2020.7,1236.4 2023.2,1226.1 2023.6,1223.2 2024.0,1238.3 2024.4,1215.4 2025.0,1206.2 2025.1,1154.9 2027.2,1148.5 2027.4,1160.5 2029.3,1168.5 2029.5,1246.5 2030.5,1248.5 2031.8,1245.4 2032.9,1245.1 2035.3,1237.6 2035.7,1230.7 2036.1,1245.8 2036.5,1213.0 2037.1,1199.9 2037.2,1126.4 2039.3,1117.3 2039.6,1133.9 2041.5,1145.1 2041.7,1253.5 2042.7,1256.3 2044.0,1245.8 2045.1,1250.0 2047.5,1248.3 2047.9,1238.1 2048.3,1252.2 2048.7,1201.0 2049.3,1180.5 2049.4,1065.8 2051.5,1051.4 2051.8,1075.7 2053.7,1091.9 2053.9,1249.8 2054.9,1253.8 2056.2,1242.5 2057.3,1247.1 2059.7,1245.5 2060.1,1242.1 2060.5,1251.4 2060.9,1221.3 2061.5,1209.3 2061.6,1141.8 2063.7,1133.4 2064.0,1145.8 2065.8,1154.1 2066.0,1235.2 2067.0,1237.2 2068.3,1233.7 2069.4,1239.4 2071.9,1221.7 2072.2,1219.6 2072.6,1234.4 2073.0,1199.3 2073.6,1185.3 2073.7,1106.6 2075.8,1096.8 2076.1,1111.8 2078.0,1121.8 2078.2,1219.6 2079.2,1222.1 2080.5,1213.5 2081.6,1216.5 2084.0,1208.7 2084.4,1209.6 2084.8,1219.2 2085.2,1183.0 2085.8,1168.5 2085.9,1087.4 2088.0,1077.3 2088.3,1094.2 2090.2,1105.5 2090.4,1215.4 2091.4,1218.2 2092.7,1214.8 2093.8,1219.7 2096.2,1203.5 2096.6,1206.5 2097.0,1216.4 2097.4,1193.2 2098.0,1183.9 2098.1,1132.0 2100.2,1125.6 2100.5,1140.0 2102.4,1149.6 2102.6,1243.1 2103.6,1245.5 2104.8,1240.0 2105.9,1243.8 2108.4,1238.0 2108.8,1233.3 2109.2,1243.4 2109.6,1216.8 2110.2,1206.2 2110.3,1146.7 2112.3,1139.2 2112.6,1152.3 2114.5,1161.1 2114.7,1246.3 2115.7,1248.5 2117.0,1243.3 2118.1,1243.9 2120.5,1237.6 2120.9,1235.6 2121.3,1246.4 2121.7,1220.0 2122.3,1209.5 2122.4,1150.5 2124.5,1143.1 2124.8,1155.8 2126.7,1164.2 2126.9,1246.4 2127.9,1248.5 2129.2,1236.6 2130.3,1246.0 2132.7,1232.8 2133.1,1232.7 2133.5,1245.6 2133.9,1209.2 2134.5,1194.7 2134.6,1113.3 2136.7,1103.1 2137.0,1118.6 2138.9,1128.9 2139.1,1229.3 2140.1,1231.9 2141.4,1229.1 2142.4,1230.3 2144.9,1220.3 2145.3,1214.6 2145.7,1229.7 2146.1,1203.0 2146.7,1192.4 2146.8,1132.5 2148.8,1125.1 2149.1,1137.2 2151.0,1145.4 2151.2,1224.5 2152.2,1226.5 2153.5,1220.7 2154.6,1222.1 2157.0,1214.0 2157.4,1214.7 2157.8,1225.9 2158.2,1218.4 2158.8,1215.3 2158.9,1198.4 2161.0,1196.3 2161.3,1201.7 2163.2,1205.4 2163.4,1240.7 2164.4,1241.6 2165.7,1230.8 2166.8,1243.2 2169.2,1226.3 2169.6,1230.2 2170.0,1239.2 2170.4,1208.1 2171.0,1195.6 2171.1,1126.0 2173.2,1117.3 2173.5,1134.5 2175.4,1145.9 2175.6,1257.8 2176.6,1260.7 2177.9,1258.2 2179.0,1261.1 2181.4,1245.9 2181.8,1241.4 2182.2,1258.4 2182.6,1230.4 2183.2,1219.2 2183.3,1156.3 2185.4,1148.5 2185.7,1160.7 2187.5,1168.8 2187.7,1247.9 2188.7,1249.9 2190.0,1247.4 2191.1,1247.6 2193.6,1237.8 2193.9,1232.4 2194.3,1247.9 2194.7,1222.5 2195.3,1212.4 2195.4,1155.6 2197.5,1148.5 2197.8,1162.6 2199.7,1172.0 2199.9,1263.7 2200.9,1266.0 2202.2,1261.8 2203.3,1263.6 2205.7,1255.3 2206.1,1248.2 2206.5,1263.5 2206.9,1232.3 2207.5,1219.8 2207.6,1149.9 2209.7,1141.2 2210.0,1154.2 2211.9,1162.9 2212.1,1247.8 2213.1,1249.9 2214.4,1244.9 2215.5,1243.2 2217.9,1239.8 2218.3,1238.1 2218.7,1248.3 2219.1,1227.5 2219.7,1219.3 2219.8,1172.8 2221.9,1167.0 2222.2,1176.0 2224.1,1181.9 2224.3,1240.1 2225.2,1241.6 2226.5,1232.4 2227.6,1239.2 2230.1,1233.3 2230.5,1225.7 2230.9,1239.0 2231.3,1206.2 2231.8,1193.1 2231.9,1119.6 2234.0,1110.4 2234.3,1126.6 2236.2,1137.5 2236.4,1242.8 2237.4,1245.5 2238.7,1242.3 2239.8,1240.3 2242.2,1231.4 2242.6,1228.1 2243.0,1242.9 2243.4,1209.6 2244.0,1196.3 2244.1,1121.7 2246.2,1112.4 2246.5,1127.4 2248.4,1137.4 2248.6,1234.8 2249.6,1237.2 2250.9,1228.7 2252.0,1236.2 2254.4,1226.0 2254.8,1223.6 2255.2,1234.6 2255.6,1201.6 2256.2,1188.3 2256.3,1114.3 2258.4,1105.1 2258.7,1120.5 2260.6,1130.7 2260.8,1230.8 2261.8,1233.3 2263.1,1222.2 2264.1,1234.9 2266.6,1217.4 2267.0,1223.3 2267.4,1231.9 2267.8,1213.3 2268.4,1205.9 2268.5,1164.4 2270.5,1159.2 2270.8,1169.4 2272.7,1176.2 2272.9,1242.4 2273.9,1244.1 2275.2,1239.6 2276.3,1243.9 2278.7,1228.0 2279.1,1229.4 2279.5,1241.5 2279.9,1209.3 2280.5,1196.4 2280.6,1124.3 2282.7,1115.3 2283.0,1132.2 2284.9,1143.5 2285.1,1253.5 2286.1,1256.3 2287.4,1250.1 2288.5,1250.1 2290.9,1246.7 2291.3,1242.0 2291.7,1254.4 2292.1,1230.5 2292.7,1220.9 2292.8,1167.4 2294.9,1160.7 2295.2,1171.1 2297.1,1178.1 2297.3,1246.2 2298.3,1248.0 2299.6,1240.4 2300.7,1243.1 2303.1,1233.3 2303.5,1231.9 2303.9,1246.3 2304.3,1225.6 2304.9,1217.3 2305.0,1170.9 2307.1,1165.1 2307.4,1176.7 2309.2,1184.4 2309.4,1259.7 2310.4,1261.6 2311.7,1255.8 2312.8,1260.9 2315.2,1252.8 2315.6,1243.7 2316.0,1261.1 2316.4,1253.7 2317.0,1250.8 2317.1,1234.4 2319.2,1232.4 2319.5,1237.5 2321.4,1241.0 2321.6,1274.4 2322.6,1275.3 2323.9,1266.4 2325.0,1270.5 2327.4,1266.3 2327.8,1261.3 2328.2,1274.7 2328.6,1267.9 2329.2,1265.2 2329.3,1249.9 2331.4,1248.0 2331.7,1252.8 2333.6,1256.0 2333.8,1287.2 2334.8,1288.0 2336.1,1278.0 2337.2,1284.8 2339.6,1279.4 2340.0,1273.7 2340.4,1287.0 2340.8,1275.1 2341.4,1270.3 2341.5,1243.5 2343.6,1240.2 2343.9,1249.3 2345.8,1255.4 2346.0,1314.7 2346.9,1316.3 2348.2,1305.2 2349.3,1316.4 2351.8,1307.1 2352.2,1303.6 2352.6,1314.5 2353.0,1292.0 2353.5,1283.1 2353.6,1232.8 2355.7,1226.5 2356.0,1235.4 2357.9,1241.2 2358.1,1298.7 2359.1,1300.2 2360.4,1290.9 2361.5,1294.4 2363.9,1291.3 2364.3,1288.9 2364.7,1297.6 2365.1,1265.3 2365.7,1252.3 2365.8,1180.0 2367.9,1170.9 2368.2,1185.0 2370.1,1194.3 2370.3,1285.6 2371.3,1288.0 2372.6,1283.1 2373.7,1287.2 2376.1,1275.6 2376.5,1276.7 2376.9,1285.8 2377.3,1259.0 2377.9,1248.3 2378.0,1188.2 2380.1,1180.7 2380.4,1192.8 2382.3,1201.0 2382.5,1280.1 2383.5,1282.1 2384.7,1276.5 2385.8,1282.7 2388.3,1265.3 2388.7,1265.3 2389.1,1280.7 2389.5,1263.3 2390.1,1256.3 2390.2,1217.3 2392.2,1212.4 2392.5,1220.5 2394.4,1225.8 2394.6,1278.3 2395.6,1279.7 2396.9,1276.3 2398.0,1272.7 2400.4,1271.4 2400.8,1266.2 2401.2,1278.5 2401.6,1263.1 2402.2,1256.9 2402.3,1222.5 2404.4,1218.2 2404.7,1226.2 2406.6,1231.6 2406.8,1283.7 2407.8,1285.0 2409.1,1273.0 2410.2,1279.7 2412.6,1270.6 2413.0,1271.1 2413.4,1283.4 2413.8,1262.8 2414.4,1254.5 2414.5,1208.4 2416.6,1202.6 2416.9,1213.2 2418.8,1220.2 2419.0,1288.7 2420.0,1290.4 2421.3,1286.1 2422.4,1286.6 2424.8,1282.1 2425.2,1278.6 2425.6,1288.8 2426.0,1268.8 2426.6,1260.8 2426.7,1216.0 2428.8,1210.4 2429.1,1219.6 2430.9,1225.6 2431.1,1285.0 2432.1,1286.5 2433.4,1280.3 2434.5,1288.6 2436.9,1275.3 2437.3,1269.0 2437.7,1284.8 2438.1,1263.9 2438.7,1255.5 2438.8,1208.5 2440.9,1202.6 2441.2,1213.8 2443.1,1221.3 2443.3,1293.9 2444.3,1295.8 2445.6,1286.6 2446.7,1293.3 2449.1,1282.3 2449.5,1281.5 2449.9,1295.0 2450.3,1285.5 2450.9,1281.7 2451.0,1260.4 2453.1,1257.7 2453.4,1264.8 2455.3,1269.4 2455.5,1315.1 2456.5,1316.3 2457.8,1312.4 2458.9,1312.8 2461.3,1305.0 2461.7,1299.3 2462.1,1314.9 2462.5,1298.4 2463.1,1291.7 2463.2,1254.6 2465.3,1249.9 2465.6,1257.4 2467.5,1262.4 2467.7,1311.1 2468.6,1312.4 2469.9,1301.1 2471.0,1310.6 2473.5,1299.4 2473.9,1295.3 2474.3,1311.4 2474.6,1299.9 2475.2,1295.2 2475.3,1269.3 2477.4,1266.0 2477.7,1269.1 2479.6,1271.2 2479.8,1291.4 2480.8,1291.9 2482.1,1285.3 2483.2,1292.1 2485.6,1277.5 2486.0,1273.5 2486.4,1290.9 2486.8,1278.0 2487.4,1272.9 2487.5,1244.2 2489.6,1240.7 2489.9,1246.2 2491.8,1249.8 2492.0,1285.6 2493.0,1286.5 2494.3,1276.5 2495.4,1282.1 2497.8,1270.9 2498.2,1270.1 2498.6,1285.6 2499.0,1274.4 2499.6,1269.9 2499.7,1244.8 2501.8,1241.6 2502.1,1247.4 2504.0,1251.3 2504.2,1289.0 2505.2,1289.9 2506.4,1281.2 2507.5,1287.9 2510.0,1279.6 2510.4,1274.0 2510.8,1288.3 2511.2,1268.5 2511.8,1260.5 2511.9,1216.0 2513.9,1210.4 2514.2,1219.2 2516.1,1225.1 2516.3,1282.1 2517.3,1283.6 2518.6,1280.2 2519.7,1281.9 2522.1,1268.6 2522.5,1266.9 2522.9,1283.1 2523.3,1277.4 2523.9,1275.1 2524.0,1262.3 2526.1,1260.7 2526.4,1263.2 2528.3,1264.9 2528.5,1281.2 2529.5,1281.6 2530.8,1273.1 2531.9,1281.6 2534.3,1270.2 2534.7,1267.4 2535.1,1280.8 2535.5,1270.6 2536.1,1266.5 2536.2,1243.5 2538.3,1240.7 2538.6,1245.3 2540.5,1248.5 2540.7,1278.9 2541.7,1279.7 2543.0,1271.2 2544.1,1278.1 2546.5,1265.8 2546.9,1260.9 2547.3,1279.4 2547.7,1275.7 2548.3,1274.3 2548.4,1266.1 2550.5,1265.1 2550.8,1267.3 2552.6,1268.8 2552.8,1283.2 2553.8,1283.6 2555.1,1279.4 2556.2,1279.6 2558.6,1268.7 2559.0,1270.0 2559.4,1282.2 2559.8,1264.4 2560.4,1257.2 2560.5,1217.4 2562.6,1212.4 2562.9,1219.9 2564.8,1224.9 2565.0,1273.6 2566.0,1274.8 2567.3,1267.6 2568.4,1267.7 2570.8,1267.1 2571.2,1259.8 2571.6,1273.8 2572.0,1261.1 2572.6,1256.0 2572.7,1227.6 2574.8,1224.1 2575.1,1228.8 2577.0,1232.0 2577.2,1262.8 2578.2,1263.6 2579.5,1259.6 2580.6,1258.4 2583.0,1247.1 2583.4,1248.8 2583.8,1263.2 2584.2,1258.8 2584.8,1257.1 2584.9,1247.3 2587.0,1246.0 2587.3,1247.8 2589.2,1249.1 2589.3,1260.8 2590.3,1261.1 2591.6,1257.7 2592.7,1258.0 2595.2,1248.6 2595.6,1244.4 2596.0,1260.5 2596.3,1252.9 2596.9,1249.8 2597.0,1232.6 2599.1,1230.4 2599.4,1234.4 2601.3,1237.1 2601.5,1262.9 2602.5,1263.6 2603.8,1256.2 2604.9,1259.8 2607.3,1248.2 2607.7,1248.7 2608.1,1262.9 2608.5,1254.2 2609.1,1250.8 2609.2,1231.4 2611.3,1229.0 2611.6,1236.3 2613.5,1241.2 2613.7,1288.7 2614.7,1289.9 2616.0,1283.5 2617.1,1283.1 2619.5,1280.6 2619.9,1273.5 2620.3,1289.1 2620.7,1278.9 2621.3,1274.8 2621.4,1251.8 2623.5,1249.0 2623.8,1257.0 2625.7,1262.3 2625.9,1314.4 2626.9,1315.8 2628.1,1309.5 2629.2,1310.8 2631.7,1307.3 2632.1,1296.4 2632.5,1314.4 2632.9,1296.5 2633.5,1289.4 2633.6,1249.6 2635.6,1244.6 2635.9,1253.1 2637.8,1258.8 2638.0,1314.4 2639.0,1315.8 2640.3,1309.9 2641.4,1317.7 2643.8,1305.8 2644.2,1302.1 2644.6,1314.8 2645.0,1302.1 2645.6,1297.0 2645.7,1268.6 2647.8,1265.1 2648.1,1268.7 2650.0,1271.1 2650.2,1294.7 2651.2,1295.3 2652.5,1292.7 2653.6,1293.6 2656.0,1283.9 2656.4,1278.7 2656.8,1294.4 2657.2,1283.8 2657.8,1279.6 2657.9,1255.8 2660.0,1252.9 2660.3,1257.8 2662.2,1261.1 2662.4,1293.0 2663.4,1293.8 2664.7,1288.0 2665.8,1293.7 2668.2,1284.3 2668.6,1276.8 2669.0,1293.5 2669.4,1289.0 2670.0,1287.2 2670.1,1277.0 2672.2,1275.8 2672.5,1279.1 2674.3,1281.3 2674.5,1303.0 2675.5,1303.6 2676.8,1292.0 2677.9,1300.9 2680.3,1294.1 2680.7,1286.0 2681.1,1303.0 2681.5,1296.1 2682.1,1293.3 2682.2,1277.7 2684.3,1275.8 2684.6,1280.6 2686.5,1283.8 2686.7,1315.0 2687.7,1315.8 2689.0,1309.5 2690.1,1316.1 2692.5,1307.2 2692.9,1298.4 2693.3,1315.1 2693.7,1307.2 2694.3,1304.0 2694.4,1286.3 2696.5,1284.1 2696.8,1292.7 2698.7,1298.5 2698.9,1354.8 2699.9,1356.3 2701.2,1345.9 2702.3,1352.5 2704.7,1344.4 2705.1,1341.0 2705.5,1354.9 2705.9,1338.5 2706.5,1331.9 2706.6,1295.0 2708.7,1290.4 2709.0,1295.0 2710.8,1298.1 2711.0,1328.2 2712.0,1328.9 2713.3,1324.3 2714.4,1322.0 2716.9,1318.2 2717.3,1313.0 2717.6,1328.4 2718.0,1321.3 2718.6,1318.5 2718.7,1302.6 2720.8,1300.7 2721.1,1302.5 2723.0,1303.7 2723.2,1315.5 2723.4,1315.8 2724.3,1366.0 2725.3,1380.6 2726.7,1432.8 2727.6,1458.7 2729.0,1465.5 2730.4,1465.5 2732.2,1472.3 2736.0,1468.4 2738.3,1474.3 2746.0,1474.3 2746.0,1475.8 2754.9,1475.8 2754.9,1476.7 2757.8,1476.7 2757.8,1473.1 2765.2,1473.1 2765.7,1469.7 2766.7,1469.7 2767.2,1473.1 2774.1,1473.1 2774.1,1475.8 2780.8,1475.8 2780.8,1476.7 2788.3,1476.7 2788.3,1476.7 2792.4,1476.7 2792.4,1475.8 2798.8,1475.8 2799.3,1472.3 2800.3,1472.3 2800.8,1475.8 2809.0,1475.8 2809.5,1472.3 2810.5,1472.3 2811.0,1475.8 2815.1,1475.8 2815.1,1474.3 2822.8,1474.3 2822.8,1474.3 2828.5,1474.3 2828.5,1471.9 2830.6,1471.9 2831.1,1468.4 2832.1,1468.4 2832.6,1471.9 2841.2,1471.9 2841.2,1473.1 2847.4,1473.1 2847.4,1474.3 2850.7,1474.3 2850.7,1474.3 2854.2,1474.3 2854.2,1471.9 2857.3,1471.9 2857.3,1471.9 2866.1,1471.9 2866.6,1468.4 2867.6,1468.4 2868.1,1471.9 2876.4,1471.9 2876.4,1476.7 2884.2,1476.7 2884.7,1473.3 2885.7,1473.3 2886.2,1476.7 2893.0,1476.7 2893.0,1476.7 2900.8,1476.7 2900.8,1474.3 2906.7,1474.3 2906.7,1474.3 2914.4,1474.3 2914.4,1471.9 2916.8,1471.9 2916.8,1474.3 2923.7,1474.3 2924.2,1470.9 2925.2,1470.9 2925.7,1474.3 2928.8,1474.3 2928.8,1476.7 2930.8,1476.7 2930.8,1475.8 2937.7,1475.8 2937.7,1473.1 2945.5,1473.1 2945.5,1475.8 2954.5,1475.8 2954.5,1474.3 2960.9,1474.3 2960.9,1474.3 2963.0,1474.3 2963.5,1470.9 2964.5,1470.9 2965.0,1474.3 2972.1,1474.3 2972.1,1474.3 2977.7,1474.3 2977.7,1474.3 2979.9,1474.3 2979.9,1476.7 2982.8,1476.7 2983.3,1473.3 2984.3,1473.3 2984.7,1476.7 2991.3,1476.7 2991.3,1471.9 2997.2,1471.9 2997.2,1473.1 3002.2,1473.1 3002.2,1471.9 3004.5,1471.9 3004.5,1473.1 3012.3,1473.1 3012.3,1471.9 3021.1,1471.9 3021.1,1473.1 3029.9,1473.1 3029.9,1474.3 3034.2,1474.3 3034.2,1473.1 3037.1,1473.1 3037.1,1474.3 3044.5,1474.3 3045.0,1470.9 3046.0,1470.9 3046.5,1474.3 3053.5,1474.3 3053.5,1471.9 3059.5,1471.9 3059.5,1474.3 3061.6,1474.3 3062.1,1470.9 3063.0,1470.9 3063.5,1474.3 3071.9,1474.3 3071.9,1476.7 3074.4,1476.7 3074.4,1471.9 3080.6,1471.9 3080.6,1476.7 3087.3,1476.7 3087.3,1476.7 3089.9,1476.7 3090.3,1473.3 3091.3,1473.3 3091.8,1476.7 3096.5,1476.7" fill="none" stroke="#d95319" stroke-width="2.1" stroke-linejoin="miter" stroke-miterlimit="2"/>
<rect x="1980" y="994.5" width="1116.5" height="505.29999999999995" fill="none" stroke="#808080" stroke-width="3.8"/>
<path d="M1980.0 1499.8v6M2073.0 1499.8v6M2166.1 1499.8v6M2259.1 1499.8v6M2352.2 1499.8v6M2445.2 1499.8v6M2538.2 1499.8v6M2631.3 1499.8v6M2724.3 1499.8v6M2817.4 1499.8v6M2910.4 1499.8v6M3003.5 1499.8v6M3096.5 1499.8v6M1980 1044.1h-6M1980 1141.6h-6M1980 1239.2h-6M1980 1336.8h-6M1980 1434.3h-6" stroke="#000" stroke-width="2" fill="none"/>
<text x="1980.0" y="1525.8" font-size="20" fill="#262626" text-anchor="middle">0</text>
<text x="2073.0" y="1525.8" font-size="20" fill="#262626" text-anchor="middle">2</text>
<text x="2166.1" y="1525.8" font-size="20" fill="#262626" text-anchor="middle">4</text>
<text x="2259.1" y="1525.8" font-size="20" fill="#262626" text-anchor="middle">6</text>
<text x="2352.2" y="1525.8" font-size="20" fill="#262626" text-anchor="middle">8</text>
<text x="2445.2" y="1525.8" font-size="20" fill="#262626" text-anchor="middle">10</text>
<text x="2538.2" y="1525.8" font-size="20" fill="#262626" text-anchor="middle">12</text>
<text x="2631.3" y="1525.8" font-size="20" fill="#262626" text-anchor="middle">14</text>
<text x="2724.3" y="1525.8" font-size="20" fill="#262626" text-anchor="middle">16</text>
<text x="2817.4" y="1525.8" font-size="20" fill="#262626" text-anchor="middle">18</text>
<text x="2910.4" y="1525.8" font-size="20" fill="#262626" text-anchor="middle">20</text>
<text x="3003.5" y="1525.8" font-size="20" fill="#262626" text-anchor="middle">22</text>
<text x="3096.5" y="1525.8" font-size="20" fill="#262626" text-anchor="middle">24</text>
<text x="1965" y="1051.1" font-size="20" fill="#262626" text-anchor="end">-40</text>
<text x="1965" y="1148.6" font-size="20" fill="#262626" text-anchor="end">-60</text>
<text x="1965" y="1246.2" font-size="20" fill="#262626" text-anchor="end">-80</text>
<text x="1965" y="1343.8" font-size="20" fill="#262626" text-anchor="end">-100</text>
<text x="1965" y="1441.3" font-size="20" fill="#262626" text-anchor="end">-120</text>
<text x="2521.2" y="1568.8" font-size="20" fill="#262626" text-anchor="middle">Frequency (kHz)</text>
<text transform="translate(1900,1244.4) rotate(-90)" text-anchor="middle" font-size="20" fill="#262626">Power Spectrum (dB)</text>
<rect x="1983" y="961.5" width="16" height="16" fill="#d95319"/>
<text x="2007.5" y="977.0" font-size="23" fill="#1a1a1a">y</text>
</svg>
</body></html>
